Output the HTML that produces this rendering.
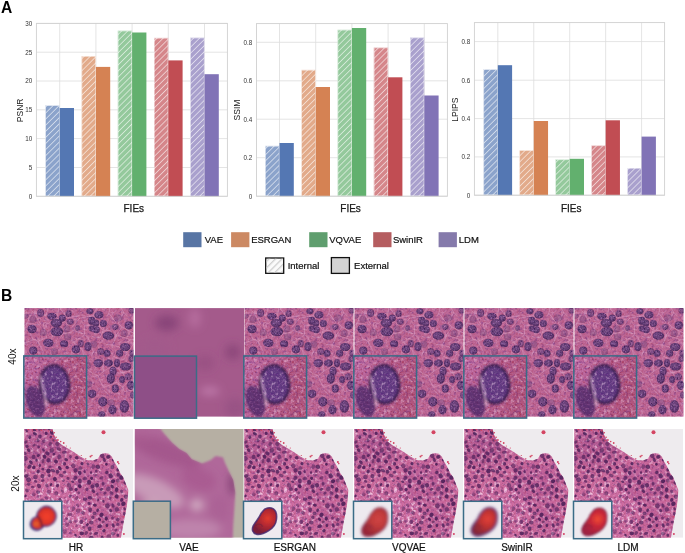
<!DOCTYPE html><html><head><meta charset="utf-8"><style>html,body{margin:0;padding:0;background:#fff}body{width:685px;height:553px;overflow:hidden}svg{display:block;will-change:transform}text{font-family:"Liberation Sans", sans-serif}</style></head><body>
<svg width="685" height="553" viewBox="0 0 685 553">
<defs>
<pattern id="hatch" patternUnits="userSpaceOnUse" width="4.3" height="4.3" patternTransform="rotate(45)"><rect x="0" y="0" width="0.8" height="4.3" fill="#fff" fill-opacity="0.65"/></pattern>
<pattern id="hatchg" patternUnits="userSpaceOnUse" width="4.6" height="4.6" patternTransform="rotate(45)"><rect x="0" y="0" width="1.3" height="4.6" fill="#cfcfcf"/></pattern>
</defs>
<rect width="685" height="553" fill="#fff"/>
<text x="0.9" y="12.7" font-size="15.6" font-weight="bold" fill="#000">A</text>
<text x="1.0" y="300.9" font-size="15.6" font-weight="bold" fill="#000">B</text>
<line x1="36.4" y1="196.3" x2="227.4" y2="196.3" stroke="#dddddd" stroke-width="0.8"/>
<text x="32.199999999999996" y="198.60000000000002" font-size="6.3" text-anchor="end" fill="#333">0</text>
<line x1="36.4" y1="167.5" x2="227.4" y2="167.5" stroke="#dddddd" stroke-width="0.8"/>
<text x="32.199999999999996" y="169.8" font-size="6.3" text-anchor="end" fill="#333">5</text>
<line x1="36.4" y1="138.6" x2="227.4" y2="138.6" stroke="#dddddd" stroke-width="0.8"/>
<text x="32.199999999999996" y="140.9" font-size="6.3" text-anchor="end" fill="#333">10</text>
<line x1="36.4" y1="109.8" x2="227.4" y2="109.8" stroke="#dddddd" stroke-width="0.8"/>
<text x="32.199999999999996" y="112.1" font-size="6.3" text-anchor="end" fill="#333">15</text>
<line x1="36.4" y1="81.0" x2="227.4" y2="81.0" stroke="#dddddd" stroke-width="0.8"/>
<text x="32.199999999999996" y="83.3" font-size="6.3" text-anchor="end" fill="#333">20</text>
<line x1="36.4" y1="52.2" x2="227.4" y2="52.2" stroke="#dddddd" stroke-width="0.8"/>
<text x="32.199999999999996" y="54.5" font-size="6.3" text-anchor="end" fill="#333">25</text>
<line x1="36.4" y1="23.4" x2="227.4" y2="23.4" stroke="#dddddd" stroke-width="0.8"/>
<text x="32.199999999999996" y="25.7" font-size="6.3" text-anchor="end" fill="#333">30</text>
<line x1="59.7" y1="23.4" x2="59.7" y2="196.3" stroke="#dddddd" stroke-width="0.8"/>
<line x1="95.9" y1="23.4" x2="95.9" y2="196.3" stroke="#dddddd" stroke-width="0.8"/>
<line x1="132.10000000000002" y1="23.4" x2="132.10000000000002" y2="196.3" stroke="#dddddd" stroke-width="0.8"/>
<line x1="168.3" y1="23.4" x2="168.3" y2="196.3" stroke="#dddddd" stroke-width="0.8"/>
<line x1="204.5" y1="23.4" x2="204.5" y2="196.3" stroke="#dddddd" stroke-width="0.8"/>
<rect x="45.40" y="105.4" width="14.3" height="90.90" fill="#8ba3cb"/>
<rect x="45.40" y="105.4" width="14.3" height="90.90" fill="url(#hatch)"/>
<rect x="45.70" y="105.7" width="13.700000000000001" height="90.30" fill="none" stroke="#fff" stroke-width="0.6" stroke-opacity="0.8"/>
<rect x="59.70" y="108.0" width="14.3" height="88.30" fill="#5477b3"/>
<rect x="81.60" y="56.1" width="14.3" height="140.20" fill="#e2aa8a"/>
<rect x="81.60" y="56.1" width="14.3" height="140.20" fill="url(#hatch)"/>
<rect x="81.90" y="56.4" width="13.700000000000001" height="139.60" fill="none" stroke="#fff" stroke-width="0.6" stroke-opacity="0.8"/>
<rect x="95.90" y="66.9" width="14.3" height="129.40" fill="#d58253"/>
<rect x="117.80" y="30.7" width="14.3" height="165.60" fill="#94c99c"/>
<rect x="117.80" y="30.7" width="14.3" height="165.60" fill="url(#hatch)"/>
<rect x="118.10" y="31.0" width="13.700000000000001" height="165.00" fill="none" stroke="#fff" stroke-width="0.6" stroke-opacity="0.8"/>
<rect x="132.10" y="32.5" width="14.3" height="163.80" fill="#62b06e"/>
<rect x="154.00" y="37.9" width="14.3" height="158.40" fill="#d5868a"/>
<rect x="154.00" y="37.9" width="14.3" height="158.40" fill="url(#hatch)"/>
<rect x="154.30" y="38.199999999999996" width="13.700000000000001" height="157.80" fill="none" stroke="#fff" stroke-width="0.6" stroke-opacity="0.8"/>
<rect x="168.30" y="60.4" width="14.3" height="135.90" fill="#c14d53"/>
<rect x="190.20" y="37.7" width="14.3" height="158.60" fill="#a9a0cd"/>
<rect x="190.20" y="37.7" width="14.3" height="158.60" fill="url(#hatch)"/>
<rect x="190.50" y="38.0" width="13.700000000000001" height="158.00" fill="none" stroke="#fff" stroke-width="0.6" stroke-opacity="0.8"/>
<rect x="204.50" y="74.2" width="14.3" height="122.10" fill="#8173b6"/>
<rect x="36.4" y="23.4" width="191.00" height="172.90" fill="none" stroke="#d0d0d0" stroke-width="0.9"/>
<text transform="translate(22.6,110.4) rotate(-90)" font-size="8.5" text-anchor="middle" fill="#222">PSNR</text>
<text x="133.8" y="211.5" font-size="10" text-anchor="middle" fill="#1a1a1a" stroke="#1a1a1a" stroke-width="0.25">FIEs</text>
<line x1="256.5" y1="196.2" x2="447.4" y2="196.2" stroke="#dddddd" stroke-width="0.8"/>
<text x="252.3" y="198.5" font-size="6.3" text-anchor="end" fill="#333">0</text>
<line x1="256.5" y1="157.7" x2="447.4" y2="157.7" stroke="#dddddd" stroke-width="0.8"/>
<text x="252.3" y="160.0" font-size="6.3" text-anchor="end" fill="#333">0.2</text>
<line x1="256.5" y1="119.2" x2="447.4" y2="119.2" stroke="#dddddd" stroke-width="0.8"/>
<text x="252.3" y="121.5" font-size="6.3" text-anchor="end" fill="#333">0.4</text>
<line x1="256.5" y1="80.8" x2="447.4" y2="80.8" stroke="#dddddd" stroke-width="0.8"/>
<text x="252.3" y="83.1" font-size="6.3" text-anchor="end" fill="#333">0.6</text>
<line x1="256.5" y1="42.3" x2="447.4" y2="42.3" stroke="#dddddd" stroke-width="0.8"/>
<text x="252.3" y="44.599999999999994" font-size="6.3" text-anchor="end" fill="#333">0.8</text>
<line x1="279.5" y1="23.6" x2="279.5" y2="196.2" stroke="#dddddd" stroke-width="0.8"/>
<line x1="315.7" y1="23.6" x2="315.7" y2="196.2" stroke="#dddddd" stroke-width="0.8"/>
<line x1="351.9" y1="23.6" x2="351.9" y2="196.2" stroke="#dddddd" stroke-width="0.8"/>
<line x1="388.1" y1="23.6" x2="388.1" y2="196.2" stroke="#dddddd" stroke-width="0.8"/>
<line x1="424.3" y1="23.6" x2="424.3" y2="196.2" stroke="#dddddd" stroke-width="0.8"/>
<rect x="265.20" y="145.9" width="14.3" height="50.30" fill="#8ba3cb"/>
<rect x="265.20" y="145.9" width="14.3" height="50.30" fill="url(#hatch)"/>
<rect x="265.50" y="146.20000000000002" width="13.700000000000001" height="49.70" fill="none" stroke="#fff" stroke-width="0.6" stroke-opacity="0.8"/>
<rect x="279.50" y="143.0" width="14.3" height="53.20" fill="#5477b3"/>
<rect x="301.40" y="69.9" width="14.3" height="126.30" fill="#e2aa8a"/>
<rect x="301.40" y="69.9" width="14.3" height="126.30" fill="url(#hatch)"/>
<rect x="301.70" y="70.2" width="13.700000000000001" height="125.70" fill="none" stroke="#fff" stroke-width="0.6" stroke-opacity="0.8"/>
<rect x="315.70" y="87.0" width="14.3" height="109.20" fill="#d58253"/>
<rect x="337.60" y="29.8" width="14.3" height="166.40" fill="#94c99c"/>
<rect x="337.60" y="29.8" width="14.3" height="166.40" fill="url(#hatch)"/>
<rect x="337.90" y="30.1" width="13.700000000000001" height="165.80" fill="none" stroke="#fff" stroke-width="0.6" stroke-opacity="0.8"/>
<rect x="351.90" y="28.0" width="14.3" height="168.20" fill="#62b06e"/>
<rect x="373.80" y="47.6" width="14.3" height="148.60" fill="#d5868a"/>
<rect x="373.80" y="47.6" width="14.3" height="148.60" fill="url(#hatch)"/>
<rect x="374.10" y="47.9" width="13.700000000000001" height="148.00" fill="none" stroke="#fff" stroke-width="0.6" stroke-opacity="0.8"/>
<rect x="388.10" y="77.3" width="14.3" height="118.90" fill="#c14d53"/>
<rect x="410.00" y="37.6" width="14.3" height="158.60" fill="#a9a0cd"/>
<rect x="410.00" y="37.6" width="14.3" height="158.60" fill="url(#hatch)"/>
<rect x="410.30" y="37.9" width="13.700000000000001" height="158.00" fill="none" stroke="#fff" stroke-width="0.6" stroke-opacity="0.8"/>
<rect x="424.30" y="95.5" width="14.3" height="100.70" fill="#8173b6"/>
<rect x="256.5" y="23.6" width="190.90" height="172.60" fill="none" stroke="#d0d0d0" stroke-width="0.9"/>
<text transform="translate(240.29999999999998,110.0) rotate(-90)" font-size="8.5" text-anchor="middle" fill="#222">SSIM</text>
<text x="350.6" y="211.5" font-size="10" text-anchor="middle" fill="#1a1a1a" stroke="#1a1a1a" stroke-width="0.25">FIEs</text>
<line x1="474.4" y1="195.2" x2="664.6" y2="195.2" stroke="#dddddd" stroke-width="0.8"/>
<text x="470.2" y="197.5" font-size="6.3" text-anchor="end" fill="#333">0</text>
<line x1="474.4" y1="156.9" x2="664.6" y2="156.9" stroke="#dddddd" stroke-width="0.8"/>
<text x="470.2" y="159.20000000000002" font-size="6.3" text-anchor="end" fill="#333">0.2</text>
<line x1="474.4" y1="118.6" x2="664.6" y2="118.6" stroke="#dddddd" stroke-width="0.8"/>
<text x="470.2" y="120.89999999999999" font-size="6.3" text-anchor="end" fill="#333">0.4</text>
<line x1="474.4" y1="80.2" x2="664.6" y2="80.2" stroke="#dddddd" stroke-width="0.8"/>
<text x="470.2" y="82.5" font-size="6.3" text-anchor="end" fill="#333">0.6</text>
<line x1="474.4" y1="41.6" x2="664.6" y2="41.6" stroke="#dddddd" stroke-width="0.8"/>
<text x="470.2" y="43.9" font-size="6.3" text-anchor="end" fill="#333">0.8</text>
<line x1="497.8" y1="22.6" x2="497.8" y2="195.2" stroke="#dddddd" stroke-width="0.8"/>
<line x1="533.75" y1="22.6" x2="533.75" y2="195.2" stroke="#dddddd" stroke-width="0.8"/>
<line x1="569.7" y1="22.6" x2="569.7" y2="195.2" stroke="#dddddd" stroke-width="0.8"/>
<line x1="605.65" y1="22.6" x2="605.65" y2="195.2" stroke="#dddddd" stroke-width="0.8"/>
<line x1="641.6" y1="22.6" x2="641.6" y2="195.2" stroke="#dddddd" stroke-width="0.8"/>
<rect x="483.50" y="69.4" width="14.3" height="125.80" fill="#8ba3cb"/>
<rect x="483.50" y="69.4" width="14.3" height="125.80" fill="url(#hatch)"/>
<rect x="483.80" y="69.7" width="13.700000000000001" height="125.20" fill="none" stroke="#fff" stroke-width="0.6" stroke-opacity="0.8"/>
<rect x="497.80" y="65.2" width="14.3" height="130.00" fill="#5477b3"/>
<rect x="519.45" y="150.3" width="14.3" height="44.90" fill="#e2aa8a"/>
<rect x="519.45" y="150.3" width="14.3" height="44.90" fill="url(#hatch)"/>
<rect x="519.75" y="150.60000000000002" width="13.700000000000001" height="44.30" fill="none" stroke="#fff" stroke-width="0.6" stroke-opacity="0.8"/>
<rect x="533.75" y="121.0" width="14.3" height="74.20" fill="#d58253"/>
<rect x="555.40" y="159.5" width="14.3" height="35.70" fill="#94c99c"/>
<rect x="555.40" y="159.5" width="14.3" height="35.70" fill="url(#hatch)"/>
<rect x="555.70" y="159.8" width="13.700000000000001" height="35.10" fill="none" stroke="#fff" stroke-width="0.6" stroke-opacity="0.8"/>
<rect x="569.70" y="158.8" width="14.3" height="36.40" fill="#62b06e"/>
<rect x="591.35" y="145.5" width="14.3" height="49.70" fill="#d5868a"/>
<rect x="591.35" y="145.5" width="14.3" height="49.70" fill="url(#hatch)"/>
<rect x="591.65" y="145.8" width="13.700000000000001" height="49.10" fill="none" stroke="#fff" stroke-width="0.6" stroke-opacity="0.8"/>
<rect x="605.65" y="120.3" width="14.3" height="74.90" fill="#c14d53"/>
<rect x="627.30" y="168.0" width="14.3" height="27.20" fill="#a9a0cd"/>
<rect x="627.30" y="168.0" width="14.3" height="27.20" fill="url(#hatch)"/>
<rect x="627.60" y="168.3" width="13.700000000000001" height="26.60" fill="none" stroke="#fff" stroke-width="0.6" stroke-opacity="0.8"/>
<rect x="641.60" y="136.6" width="14.3" height="58.60" fill="#8173b6"/>
<rect x="474.4" y="22.6" width="190.20" height="172.60" fill="none" stroke="#d0d0d0" stroke-width="0.9"/>
<text transform="translate(458.3,109.6) rotate(-90)" font-size="8.5" text-anchor="middle" fill="#222">LPIPS</text>
<text x="571.2" y="211.5" font-size="10" text-anchor="middle" fill="#1a1a1a" stroke="#1a1a1a" stroke-width="0.25">FIEs</text>
<rect x="183.2" y="232.2" width="18.3" height="15" fill="#5875a4"/>
<text x="204.7" y="243.1" font-size="9.5" fill="#111" stroke="#111" stroke-width="0.2">VAE</text>
<rect x="231.1" y="232.2" width="18.3" height="15" fill="#cc8963"/>
<text x="251.2" y="243.1" font-size="9.5" fill="#111" stroke="#111" stroke-width="0.2">ESRGAN</text>
<rect x="309.2" y="232.2" width="18.3" height="15" fill="#5f9e6e"/>
<text x="329.2" y="243.1" font-size="9.5" fill="#111" stroke="#111" stroke-width="0.2">VQVAE</text>
<rect x="373.2" y="232.2" width="18.3" height="15" fill="#b55d60"/>
<text x="392.9" y="243.1" font-size="9.5" fill="#111" stroke="#111" stroke-width="0.2">SwinIR</text>
<rect x="438.6" y="232.2" width="18.3" height="15" fill="#857aab"/>
<text x="458.8" y="243.1" font-size="9.5" fill="#111" stroke="#111" stroke-width="0.2">LDM</text>
<rect x="265.7" y="258" width="18" height="15.3" fill="#fbfbfb" stroke="#111" stroke-width="1.3"/>
<rect x="266.4" y="258.7" width="16.6" height="13.9" fill="url(#hatchg)"/>
<text x="287.7" y="268.9" font-size="9.5" fill="#111" stroke="#111" stroke-width="0.2">Internal</text>
<rect x="331.4" y="257.6" width="18" height="15.8" fill="#d3d3d3" stroke="#111" stroke-width="1.3"/>
<text x="354.1" y="268.9" font-size="9.5" fill="#111" stroke="#111" stroke-width="0.2">External</text>
<defs>
<filter id="b03" x="-10%" y="-10%" width="120%" height="120%"><feGaussianBlur stdDeviation="0.35"/></filter>
<filter id="b06" x="-20%" y="-20%" width="140%" height="140%"><feGaussianBlur stdDeviation="0.6"/></filter>
<filter id="b10" x="-20%" y="-20%" width="140%" height="140%"><feGaussianBlur stdDeviation="1.0"/></filter>
<filter id="b15" x="-20%" y="-20%" width="140%" height="140%"><feGaussianBlur stdDeviation="1.5"/></filter>
<filter id="b40" x="-50%" y="-50%" width="200%" height="200%"><feGaussianBlur stdDeviation="4"/></filter>
<filter id="b25" x="-50%" y="-50%" width="200%" height="200%"><feGaussianBlur stdDeviation="2.5"/></filter>
<filter id="tex" x="0" y="0" width="100%" height="100%" color-interpolation-filters="sRGB"><feTurbulence type="fractalNoise" baseFrequency="0.55" numOctaves="2" seed="3" result="n"/><feColorMatrix in="n" type="matrix" values="0 0 0 0 1  0 0 0 0 1  0 0 0 0 1  1.2 0 0 0 -0.55" result="w"/><feComposite in="w" in2="SourceGraphic" operator="in"/></filter>
<filter id="texd" x="0" y="0" width="100%" height="100%" color-interpolation-filters="sRGB"><feTurbulence type="fractalNoise" baseFrequency="0.5" numOctaves="2" seed="9" result="n"/><feColorMatrix in="n" type="matrix" values="0 0 0 0 0.35  0 0 0 0 0.1  0 0 0 0 0.45  1.3 0 0 0 -0.6" result="w"/><feComposite in="w" in2="SourceGraphic" operator="in"/></filter>
<filter id="sw" x="0" y="0" width="100%" height="100%" color-interpolation-filters="sRGB"><feTurbulence type="fractalNoise" baseFrequency="0.3" numOctaves="2" seed="3" result="n"/><feColorMatrix in="n" type="matrix" values="0 0 0 0 0.97  0 0 0 0 0.85  0 0 0 0 0.93  3.2 0 0 0 -1.7" result="w"/><feComposite in="w" in2="SourceGraphic" operator="in"/></filter>
<filter id="sr" x="0" y="0" width="100%" height="100%" color-interpolation-filters="sRGB"><feTurbulence type="fractalNoise" baseFrequency="0.4" numOctaves="2" seed="11" result="n"/><feColorMatrix in="n" type="matrix" values="0 0 0 0 0.62  0 0 0 0 0.16  0 0 0 0 0.28  3.0 0 0 0 -1.6" result="w"/><feComposite in="w" in2="SourceGraphic" operator="in"/></filter>
<filter id="sp" x="0" y="0" width="100%" height="100%" color-interpolation-filters="sRGB"><feTurbulence type="fractalNoise" baseFrequency="0.35" numOctaves="2" seed="5" result="n"/><feColorMatrix in="n" type="matrix" values="0 0 0 0 0.34  0 0 0 0 0.14  0 0 0 0 0.48  2.6 0 0 0 -1.35" result="w"/><feComposite in="w" in2="SourceGraphic" operator="in"/></filter>
<filter id="sl" x="0" y="0" width="100%" height="100%" color-interpolation-filters="sRGB"><feTurbulence type="fractalNoise" baseFrequency="0.5" numOctaves="2" seed="21" result="n"/><feColorMatrix in="n" type="matrix" values="0 0 0 0 0.9  0 0 0 0 0.6  0 0 0 0 0.85  2.6 0 0 0 -1.3" result="w"/><feComposite in="w" in2="SourceGraphic" operator="in"/></filter>
<filter id="sp2" x="0" y="0" width="100%" height="100%" color-interpolation-filters="sRGB"><feTurbulence type="fractalNoise" baseFrequency="0.7" numOctaves="2" seed="31" result="n"/><feColorMatrix in="n" type="matrix" values="0 0 0 0 0.2  0 0 0 0 0.08  0 0 0 0 0.3  3.0 0 0 0 -1.5" result="w"/><feComposite in="w" in2="SourceGraphic" operator="in"/></filter>
<filter id="sl2" x="0" y="0" width="100%" height="100%" color-interpolation-filters="sRGB"><feTurbulence type="fractalNoise" baseFrequency="0.6" numOctaves="2" seed="41" result="n"/><feColorMatrix in="n" type="matrix" values="0 0 0 0 0.75  0 0 0 0 0.55  0 0 0 0 0.85  3.0 0 0 0 -1.6" result="w"/><feComposite in="w" in2="SourceGraphic" operator="in"/></filter>
<clipPath id="c40"><rect x="0" y="0" width="109.4" height="108.7"/></clipPath>
<clipPath id="c20"><rect x="0" y="0" width="108.7" height="108.8"/></clipPath>
<clipPath id="ci40"><rect x="0" y="0" width="62.4" height="61.7"/></clipPath>
<clipPath id="ci20"><rect x="0" y="0" width="37.8" height="37"/></clipPath>
<radialGradient id="ng" cx="0.45" cy="0.45" r="0.6"><stop offset="0" stop-color="#725084"/><stop offset="0.65" stop-color="#58346e"/><stop offset="1" stop-color="#3a1e4a"/></radialGradient>
<g id="t40" clip-path="url(#c40)"><g filter="url(#b03)">
<rect x="0" y="0" width="109.4" height="108.7" fill="#bc6592"/>
<rect x="0" y="0" width="109.4" height="108.7" fill="#fff" filter="url(#sr)" opacity="0.4"/>
<rect x="0" y="0" width="109.4" height="108.7" fill="#fff" filter="url(#sp)" opacity="0.55"/>
<rect x="0" y="0" width="109.4" height="108.7" fill="#fff" filter="url(#sw)" opacity="0.3"/>
<path d="M16.1,84.6L-65.0,83.9M2.4,-24.7L-44.9,14.8M16.1,84.6L19.6,81.9M19.6,81.9L15.1,63.9M115.8,123.2L100.6,90.1M19.6,81.9L20.1,82.0M27.0,103.2L20.1,82.0M199.5,65.9L99.7,83.4M85.9,-34.6L69.1,7.5M57.0,9.8L69.1,7.5M58.4,12.5L69.6,13.5M69.1,7.5L71.4,10.2M71.4,10.2L69.6,13.5M60.5,17.2L68.6,17.1M88.5,49.3L88.5,57.9M79.0,50.8L79.1,63.2M88.5,57.9L79.1,63.2M88.5,57.9L95.2,61.3M89.1,48.7L99.1,51.5M63.5,29.3L69.1,43.5M58.0,41.6L59.4,47.8M69.1,43.5L67.5,47.6M66.8,48.0L67.5,47.6M60.2,26.1L48.1,22.1M60.5,26.8L49.1,34.1M49.1,34.1L49.0,34.1M60.5,17.2L60.2,26.1M56.2,9.2L47.8,18.9M58.0,41.6L49.1,34.1M63.5,29.0L60.5,26.8M63.5,29.0L63.5,29.3M96.2,64.1L95.2,61.3M79.1,63.2L78.6,63.9M204.0,65.6L101.7,46.6M101.7,46.6L99.7,51.2M136.8,64.5L113.0,60.7M96.2,64.1L98.5,64.7M99.7,51.2L99.1,51.5M113.0,60.7L98.5,64.7M100.2,121.1L93.4,97.2M97.9,88.2L95.4,89.5M97.1,144.6L82.3,105.3M52.6,165.3L77.6,102.6M82.3,105.3L77.6,102.6M85.1,98.7L84.7,98.7M82.3,105.3L84.7,98.7M55.3,7.4L42.8,10.0M30.7,-25.5L34.7,-1.2M34.7,-1.2L42.8,10.0M43.3,16.7L41.2,13.6M79.0,50.8L78.0,49.8M81.8,36.3L88.3,36.8M89.0,37.7L88.3,36.8M68.6,17.1L70.4,18.4M67.5,28.4L75.6,29.7M101.1,75.9L107.8,72.2M99.8,67.5L107.8,72.2M99.7,83.4L98.8,79.3M98.8,79.3L101.1,75.9M136.8,64.5L107.8,72.2M98.8,79.3L91.9,74.1M98.5,64.7L99.8,67.5M27.0,103.2L51.1,98.0M53.4,102.5L51.1,98.0M20.1,82.0L41.5,83.5M51.1,98.0L48.4,91.0M74.0,67.7L75.1,71.8M74.0,67.7L70.6,66.2M70.6,66.2L69.9,66.3M64.0,68.4L58.2,83.6M58.2,83.6L60.0,83.0M91.9,74.1L79.4,79.5M78.6,63.9L74.0,67.7M79.4,79.5L75.1,71.8M59.4,47.8L51.9,53.2M51.9,53.2L69.9,66.3M51.9,53.2L45.0,55.6M46.5,67.7L64.0,68.4M41.5,83.5L46.5,67.7M48.4,91.0L58.2,83.6M34.7,-1.2L32.7,9.6M41.2,13.6L36.7,14.4M36.7,14.4L32.7,9.6M8.3,3.1L9.7,4.8M30.7,-25.5L21.8,7.2M21.8,7.2L9.7,4.8M8.3,3.1L2.5,15.5M9.7,4.8L16.2,16.0M16.2,16.0L15.2,16.7M15.2,16.7L2.5,15.5M1.7,15.9L2.5,15.5M101.7,46.6L101.7,45.1M89.0,37.7L94.1,38.5M101.7,45.1L94.1,38.5M85.7,-51.6L156.5,19.4M88.3,36.8L92.0,26.8M75.6,29.7L78.9,22.8M78.9,22.8L86.3,22.3M70.4,18.4L75.1,18.0M75.5,11.8L75.1,18.0M75.1,18.0L78.7,22.2M82.5,96.2L74.2,98.8M83.8,86.2L79.5,82.1M53.4,102.5L67.7,97.0M15.1,63.9L19.1,56.1M45.0,55.6L41.9,53.2M49.0,34.1L47.2,35.3M41.9,53.2L41.4,47.8M43.3,16.7L37.8,23.1M46.3,24.5L38.4,25.4M38.4,25.4L36.3,29.5M31.9,35.7L32.1,32.0M101.7,45.1L113.7,31.2M94.1,38.5L106.5,31.7M113.7,31.2L106.5,31.7M113.7,31.2L117.4,29.7M92.0,26.8L92.3,26.7M106.5,31.7L92.3,26.7M19.4,44.4L13.8,33.3M-6.5,37.7L8.8,31.6M13.8,33.3L10.5,31.5M8.8,31.6L10.5,31.5M19.1,56.1L19.0,55.7M1.7,15.9L8.8,31.6M22.2,29.3L18.9,15.5M27.7,28.7L27.7,19.5M24.0,15.4L21.1,14.5M21.1,14.5L18.9,15.5M13.8,33.3L22.2,29.3M32.7,9.6L24.0,15.4M93.9,15.0L99.3,4.4M93.9,15.0L97.6,19.0M98.1,19.0L97.6,19.0M105.2,9.8L99.3,4.4M117.4,29.7L98.1,19.0M92.3,26.7L97.6,19.0M88.3,-16.3L99.3,4.4M87.0,19.0L91.6,14.3M91.6,14.3L84.6,5.2M82.7,8.0L84.6,5.2M86.3,22.3L87.0,19.0M78.7,22.2L82.9,12.8M88.3,-16.3L84.6,5.2" fill="none" stroke="#ecc8e4" stroke-width="1.0" stroke-opacity="0.3" filter="url(#b06)"/>
<g filter="url(#b06)">
<ellipse cx="7.7" cy="20.8" rx="4.68" ry="4.23" fill="url(#ng)" fill-opacity="0.9"/>
<ellipse cx="16.3" cy="5" rx="3.56" ry="4.12" fill="url(#ng)" fill-opacity="0.65"/>
<ellipse cx="27.6" cy="8.1" rx="4.68" ry="3.56" fill="url(#ng)" fill-opacity="0.9"/>
<ellipse cx="38" cy="10" rx="3.56" ry="3.56" fill="url(#ng)" fill-opacity="0.9"/>
<ellipse cx="44.3" cy="5.4" rx="3.22" ry="3.56" fill="url(#ng)" fill-opacity="0.65"/>
<ellipse cx="32.1" cy="14.9" rx="5.80" ry="4.12" fill="url(#ng)" fill-opacity="0.9"/>
<ellipse cx="32.6" cy="23.5" rx="6.36" ry="4.68" fill="url(#ng)" fill-opacity="0.9"/>
<ellipse cx="46" cy="13.6" rx="3.56" ry="3.00" fill="url(#ng)" fill-opacity="0.65"/>
<ellipse cx="24" cy="34.8" rx="5.24" ry="4.12" fill="url(#ng)" fill-opacity="0.9"/>
<ellipse cx="39.8" cy="35.7" rx="4.12" ry="3.56" fill="url(#ng)" fill-opacity="0.9"/>
<ellipse cx="9" cy="42.5" rx="4.12" ry="4.12" fill="url(#ng)" fill-opacity="0.9"/>
<ellipse cx="51.6" cy="41.2" rx="4.12" ry="4.12" fill="url(#ng)" fill-opacity="0.9"/>
<ellipse cx="1.8" cy="8.1" rx="2.44" ry="2.44" fill="url(#ng)" fill-opacity="0.35"/>
<ellipse cx="8.6" cy="11.3" rx="3.56" ry="3.56" fill="url(#ng)" fill-opacity="0.35"/>
<ellipse cx="42.5" cy="20.8" rx="3.56" ry="3.56" fill="url(#ng)" fill-opacity="0.35"/>
<ellipse cx="53.4" cy="20" rx="2.44" ry="3.00" fill="url(#ng)" fill-opacity="0.65"/>
<ellipse cx="19" cy="24.4" rx="3.56" ry="3.56" fill="url(#ng)" fill-opacity="0.35"/>
<ellipse cx="30" cy="43.4" rx="3.56" ry="3.56" fill="url(#ng)" fill-opacity="0.35"/>
<ellipse cx="43.4" cy="29" rx="3.56" ry="3.56" fill="url(#ng)" fill-opacity="0.35"/>
<ellipse cx="65.6" cy="3.2" rx="3.56" ry="3.00" fill="url(#ng)" fill-opacity="0.9"/>
<ellipse cx="74.6" cy="6.8" rx="4.68" ry="3.56" fill="url(#ng)" fill-opacity="0.9"/>
<ellipse cx="67.4" cy="12.7" rx="3.56" ry="4.12" fill="url(#ng)" fill-opacity="0.9"/>
<ellipse cx="71.4" cy="14.9" rx="3.56" ry="3.56" fill="url(#ng)" fill-opacity="0.9"/>
<ellipse cx="79.1" cy="15.4" rx="3.56" ry="3.56" fill="url(#ng)" fill-opacity="0.9"/>
<ellipse cx="67.4" cy="20.4" rx="3.00" ry="3.00" fill="url(#ng)" fill-opacity="0.9"/>
<ellipse cx="71.9" cy="21.7" rx="3.56" ry="3.56" fill="url(#ng)" fill-opacity="0.9"/>
<ellipse cx="90.9" cy="19" rx="3.56" ry="3.00" fill="url(#ng)" fill-opacity="0.65"/>
<ellipse cx="104.5" cy="17.2" rx="4.12" ry="4.12" fill="url(#ng)" fill-opacity="0.9"/>
<ellipse cx="93.6" cy="10" rx="4.12" ry="3.56" fill="url(#ng)" fill-opacity="0.35"/>
<ellipse cx="84.1" cy="27.6" rx="5.80" ry="4.12" fill="url(#ng)" fill-opacity="0.9"/>
<ellipse cx="63.7" cy="38.5" rx="3.56" ry="4.68" fill="url(#ng)" fill-opacity="0.9"/>
<ellipse cx="56.5" cy="35.3" rx="3.00" ry="3.56" fill="url(#ng)" fill-opacity="0.65"/>
<ellipse cx="69.6" cy="36.2" rx="3.56" ry="3.56" fill="url(#ng)" fill-opacity="0.35"/>
<ellipse cx="100.9" cy="38.9" rx="5.24" ry="4.12" fill="url(#ng)" fill-opacity="0.9"/>
<ellipse cx="82.7" cy="45.2" rx="3.56" ry="3.56" fill="url(#ng)" fill-opacity="0.9"/>
<ellipse cx="76.4" cy="43.4" rx="3.56" ry="3.56" fill="url(#ng)" fill-opacity="0.65"/>
<ellipse cx="95.4" cy="45.2" rx="3.56" ry="3.56" fill="url(#ng)" fill-opacity="0.9"/>
<ellipse cx="107.2" cy="2.7" rx="3.00" ry="3.00" fill="url(#ng)" fill-opacity="0.65"/>
<ellipse cx="100" cy="25.3" rx="3.56" ry="3.56" fill="url(#ng)" fill-opacity="0.35"/>
<ellipse cx="108" cy="45" rx="3.00" ry="3.56" fill="url(#ng)" fill-opacity="0.65"/>
<ellipse cx="73.9" cy="55" rx="4.68" ry="4.12" fill="url(#ng)" fill-opacity="0.9"/>
<ellipse cx="84.2" cy="55" rx="4.68" ry="3.56" fill="url(#ng)" fill-opacity="0.9"/>
<ellipse cx="92.7" cy="55" rx="3.00" ry="4.12" fill="url(#ng)" fill-opacity="0.9"/>
<ellipse cx="101.3" cy="58.4" rx="5.80" ry="4.12" fill="url(#ng)" fill-opacity="0.9"/>
<ellipse cx="88.7" cy="63" rx="3.56" ry="4.68" fill="url(#ng)" fill-opacity="0.9"/>
<ellipse cx="86.5" cy="70.3" rx="4.12" ry="5.24" fill="url(#ng)" fill-opacity="0.9"/>
<ellipse cx="97.9" cy="71.5" rx="3.00" ry="3.56" fill="url(#ng)" fill-opacity="0.9"/>
<ellipse cx="104.1" cy="68.6" rx="3.56" ry="3.56" fill="url(#ng)" fill-opacity="0.65"/>
<ellipse cx="106.4" cy="77.2" rx="3.56" ry="4.68" fill="url(#ng)" fill-opacity="0.9"/>
<ellipse cx="91" cy="80.6" rx="3.56" ry="4.12" fill="url(#ng)" fill-opacity="0.9"/>
<ellipse cx="67.7" cy="85.7" rx="4.12" ry="4.12" fill="url(#ng)" fill-opacity="0.9"/>
<ellipse cx="78.5" cy="93.7" rx="4.68" ry="4.68" fill="url(#ng)" fill-opacity="0.9"/>
<ellipse cx="100.1" cy="98.3" rx="4.68" ry="6.36" fill="url(#ng)" fill-opacity="0.9"/>
<ellipse cx="88.2" cy="101.7" rx="4.12" ry="4.68" fill="url(#ng)" fill-opacity="0.9"/>
<ellipse cx="107" cy="50.4" rx="3.00" ry="3.56" fill="url(#ng)" fill-opacity="0.65"/>
<ellipse cx="64.3" cy="76" rx="3.56" ry="3.56" fill="url(#ng)" fill-opacity="0.35"/>
<ellipse cx="87" cy="94.8" rx="3.56" ry="3.56" fill="url(#ng)" fill-opacity="0.35"/>
<ellipse cx="108.1" cy="86.9" rx="2.44" ry="3.56" fill="url(#ng)" fill-opacity="0.65"/>
<ellipse cx="77.4" cy="106.2" rx="3.56" ry="3.00" fill="url(#ng)" fill-opacity="0.9"/>
<ellipse cx="63.1" cy="57.3" rx="3.56" ry="3.56" fill="url(#ng)" fill-opacity="0.35"/>
</g>
<clipPath id="cnuc"><ellipse cx="7.7" cy="20.8" rx="4.20" ry="3.78"/><ellipse cx="16.3" cy="5" rx="3.15" ry="3.68"/><ellipse cx="27.6" cy="8.1" rx="4.20" ry="3.15"/><ellipse cx="38" cy="10" rx="3.15" ry="3.15"/><ellipse cx="44.3" cy="5.4" rx="2.84" ry="3.15"/><ellipse cx="32.1" cy="14.9" rx="5.25" ry="3.68"/><ellipse cx="32.6" cy="23.5" rx="5.78" ry="4.20"/><ellipse cx="46" cy="13.6" rx="3.15" ry="2.62"/><ellipse cx="24" cy="34.8" rx="4.73" ry="3.68"/><ellipse cx="39.8" cy="35.7" rx="3.68" ry="3.15"/><ellipse cx="9" cy="42.5" rx="3.68" ry="3.68"/><ellipse cx="51.6" cy="41.2" rx="3.68" ry="3.68"/><ellipse cx="53.4" cy="20" rx="2.10" ry="2.62"/><ellipse cx="65.6" cy="3.2" rx="3.15" ry="2.62"/><ellipse cx="74.6" cy="6.8" rx="4.20" ry="3.15"/><ellipse cx="67.4" cy="12.7" rx="3.15" ry="3.68"/><ellipse cx="71.4" cy="14.9" rx="3.15" ry="3.15"/><ellipse cx="79.1" cy="15.4" rx="3.15" ry="3.15"/><ellipse cx="67.4" cy="20.4" rx="2.62" ry="2.62"/><ellipse cx="71.9" cy="21.7" rx="3.15" ry="3.15"/><ellipse cx="90.9" cy="19" rx="3.15" ry="2.62"/><ellipse cx="104.5" cy="17.2" rx="3.68" ry="3.68"/><ellipse cx="84.1" cy="27.6" rx="5.25" ry="3.68"/><ellipse cx="63.7" cy="38.5" rx="3.15" ry="4.20"/><ellipse cx="56.5" cy="35.3" rx="2.62" ry="3.15"/><ellipse cx="100.9" cy="38.9" rx="4.73" ry="3.68"/><ellipse cx="82.7" cy="45.2" rx="3.15" ry="3.15"/><ellipse cx="76.4" cy="43.4" rx="3.15" ry="3.15"/><ellipse cx="95.4" cy="45.2" rx="3.15" ry="3.15"/><ellipse cx="107.2" cy="2.7" rx="2.62" ry="2.62"/><ellipse cx="108" cy="45" rx="2.62" ry="3.15"/><ellipse cx="73.9" cy="55" rx="4.20" ry="3.68"/><ellipse cx="84.2" cy="55" rx="4.20" ry="3.15"/><ellipse cx="92.7" cy="55" rx="2.62" ry="3.68"/><ellipse cx="101.3" cy="58.4" rx="5.25" ry="3.68"/><ellipse cx="88.7" cy="63" rx="3.15" ry="4.20"/><ellipse cx="86.5" cy="70.3" rx="3.68" ry="4.73"/><ellipse cx="97.9" cy="71.5" rx="2.62" ry="3.15"/><ellipse cx="104.1" cy="68.6" rx="3.15" ry="3.15"/><ellipse cx="106.4" cy="77.2" rx="3.15" ry="4.20"/><ellipse cx="91" cy="80.6" rx="3.15" ry="3.68"/><ellipse cx="67.7" cy="85.7" rx="3.68" ry="3.68"/><ellipse cx="78.5" cy="93.7" rx="4.20" ry="4.20"/><ellipse cx="100.1" cy="98.3" rx="4.20" ry="5.78"/><ellipse cx="88.2" cy="101.7" rx="3.68" ry="4.20"/><ellipse cx="107" cy="50.4" rx="2.62" ry="3.15"/><ellipse cx="108.1" cy="86.9" rx="2.10" ry="3.15"/><ellipse cx="77.4" cy="106.2" rx="3.15" ry="2.62"/></clipPath>
<g clip-path="url(#cnuc)"><rect x="0" y="0" width="109.4" height="108.7" fill="#000" filter="url(#sp2)" opacity="0.8"/><rect x="0" y="0" width="109.4" height="108.7" fill="#fff" filter="url(#sl2)" opacity="0.55"/></g>
<rect x="0" y="0" width="109.4" height="108.7" fill="#fff" filter="url(#sl)" opacity="0.3"/>
</g></g>
<g id="i40" clip-path="url(#ci40)">
<rect x="0" y="0" width="62.4" height="61.7" fill="#b8629a"/>
<linearGradient id="ig" x1="0" y1="0" x2="1" y2="0.3"><stop offset="0" stop-color="#c070a8" stop-opacity="0.5"/><stop offset="1" stop-color="#a84860" stop-opacity="0.5"/></linearGradient>
<rect x="0" y="0" width="62.4" height="61.7" fill="url(#ig)"/>
<rect x="0" y="0" width="62.4" height="61.7" fill="#fff" filter="url(#sr)" opacity="0.8"/>
<rect x="0" y="0" width="62.4" height="61.7" fill="#fff" filter="url(#sp)" opacity="0.6"/>
<rect x="0" y="0" width="62.4" height="61.7" fill="#fff" filter="url(#sw)" opacity="0.5"/>
<g filter="url(#b10)">
<ellipse cx="30.5" cy="28.2" rx="14.4" ry="18.8" transform="rotate(-6 30.5 28.2)" fill="#5a3680" fill-opacity="0.9" stroke="#2e1848" stroke-width="3" stroke-opacity="0.8"/>
<ellipse cx="11.5" cy="45" rx="9" ry="16" transform="rotate(-18 11.5 45)" fill="#4a2868" fill-opacity="0.8"/>
<line x1="17" y1="20" x2="23" y2="50" stroke="#f0c8e6" stroke-width="2" opacity="0.6"/>
</g>
<clipPath id="cn"><ellipse cx="30.5" cy="28.2" rx="12.6" ry="17" transform="rotate(-6 30.5 28.2)"/></clipPath>
<g clip-path="url(#cn)"><rect x="15" y="10" width="32" height="36" fill="#000" filter="url(#sp)" opacity="0.9"/><rect x="15" y="10" width="32" height="36" fill="#fff" filter="url(#sw)" opacity="0.5"/></g>
<rect x="0" y="0" width="62.4" height="61.7" fill="#fff" filter="url(#sl)" opacity="0.35"/>
</g>
<g id="t20" clip-path="url(#c20)">
<rect x="0" y="0" width="109.4" height="108.8" fill="#eeebee"/>
<polygon points="28.5,-1.0 28.5,0.5 29.4,5.0 31.5,9.5 34.0,13.0 38.0,16.2 44.1,19.8 50.2,23.5 56.4,27.8 62.5,30.9 68.6,31.5 73.5,29.7 76.0,25.4 79.7,24.1 84.6,24.8 87.6,27.8 89.5,32.1 92.5,37.0 96.2,44.4 98.9,48.3 101.7,55.3 104.0,61.0 103.5,70.0 102.0,80.0 99.5,92.6 96.5,109.5 -1.0,109.5 -1.0,-1.0" fill="#cc6c9e"/>
<clipPath id="cp20"><polygon points="28.5,-1.0 28.5,0.5 29.4,5.0 31.5,9.5 34.0,13.0 38.0,16.2 44.1,19.8 50.2,23.5 56.4,27.8 62.5,30.9 68.6,31.5 73.5,29.7 76.0,25.4 79.7,24.1 84.6,24.8 87.6,27.8 89.5,32.1 92.5,37.0 96.2,44.4 98.9,48.3 101.7,55.3 104.0,61.0 103.5,70.0 102.0,80.0 99.5,92.6 96.5,109.5 -1.0,109.5 -1.0,-1.0"/></clipPath>
<g clip-path="url(#cp20)">
<g filter="url(#b40)">
<ellipse cx="20" cy="20" rx="25" ry="18" fill="#9e4a88" fill-opacity="0.45"/>
<ellipse cx="70" cy="55" rx="25" ry="20" fill="#a85090" fill-opacity="0.35"/>
<ellipse cx="85" cy="90" rx="15" ry="15" fill="#a85090" fill-opacity="0.3"/>
</g>
<rect x="0" y="0" width="109.4" height="108.8" fill="#fff" filter="url(#sr)" opacity="0.4"/>
<rect x="0" y="0" width="109.4" height="108.8" fill="#fff" filter="url(#sp)" opacity="0.5"/>
<rect x="0" y="0" width="109.4" height="108.8" fill="#fff" filter="url(#sw)" opacity="0.7"/>
<clipPath id="cll"><ellipse cx="30" cy="84" rx="36" ry="26"/></clipPath>
<g clip-path="url(#cll)"><rect x="0" y="50" width="70" height="60" fill="#fff" filter="url(#sw)" opacity="0.85"/><rect x="0" y="50" width="70" height="60" fill="#fff" filter="url(#sl)" opacity="0.6"/></g>
<g filter="url(#b03)">
<ellipse cx="33.0" cy="15.0" rx="2.1" ry="2.1" transform="rotate(132 33.0 15.0)" fill="#4a1e58" fill-opacity="0.58"/>
<ellipse cx="55.9" cy="39.3" rx="2.1" ry="2.0" transform="rotate(146 55.9 39.3)" fill="#4a1e58" fill-opacity="0.53"/>
<ellipse cx="4.3" cy="55.3" rx="1.8" ry="1.5" transform="rotate(34 4.3 55.3)" fill="#4a1e58" fill-opacity="0.55"/>
<ellipse cx="2.0" cy="47.0" rx="2.4" ry="1.7" transform="rotate(166 2.0 47.0)" fill="#4a1e58" fill-opacity="0.76"/>
<ellipse cx="5.5" cy="8.3" rx="1.8" ry="1.4" transform="rotate(117 5.5 8.3)" fill="#4a1e58" fill-opacity="0.80"/>
<ellipse cx="22.1" cy="68.9" rx="2.1" ry="1.7" transform="rotate(10 22.1 68.9)" fill="#4a1e58" fill-opacity="0.44"/>
<ellipse cx="60.3" cy="42.8" rx="1.5" ry="1.2" transform="rotate(60 60.3 42.8)" fill="#4a1e58" fill-opacity="0.75"/>
<ellipse cx="13.6" cy="11.3" rx="2.1" ry="1.3" transform="rotate(83 13.6 11.3)" fill="#4a1e58" fill-opacity="0.60"/>
<ellipse cx="60.8" cy="70.2" rx="2.4" ry="1.6" transform="rotate(178 60.8 70.2)" fill="#4a1e58" fill-opacity="0.73"/>
<ellipse cx="4.4" cy="21.3" rx="2.1" ry="1.4" transform="rotate(59 4.4 21.3)" fill="#4a1e58" fill-opacity="0.79"/>
<ellipse cx="71.5" cy="46.3" rx="1.6" ry="1.1" transform="rotate(138 71.5 46.3)" fill="#4a1e58" fill-opacity="0.56"/>
<ellipse cx="31.9" cy="64.2" rx="2.3" ry="2.0" transform="rotate(97 31.9 64.2)" fill="#4a1e58" fill-opacity="0.47"/>
<ellipse cx="30.4" cy="87.8" rx="2.0" ry="1.5" transform="rotate(108 30.4 87.8)" fill="#4a1e58" fill-opacity="0.53"/>
<ellipse cx="24.4" cy="62.9" rx="2.2" ry="2.0" transform="rotate(128 24.4 62.9)" fill="#4a1e58" fill-opacity="0.42"/>
<ellipse cx="92.5" cy="80.4" rx="2.3" ry="2.2" transform="rotate(139 92.5 80.4)" fill="#4a1e58" fill-opacity="0.62"/>
<ellipse cx="70.2" cy="84.4" rx="1.9" ry="1.9" transform="rotate(94 70.2 84.4)" fill="#4a1e58" fill-opacity="0.61"/>
<ellipse cx="73.1" cy="65.2" rx="1.5" ry="1.4" transform="rotate(86 73.1 65.2)" fill="#4a1e58" fill-opacity="0.50"/>
<ellipse cx="60.6" cy="49.6" rx="2.3" ry="1.6" transform="rotate(178 60.6 49.6)" fill="#4a1e58" fill-opacity="0.64"/>
<ellipse cx="88.7" cy="104.7" rx="2.2" ry="1.6" transform="rotate(5 88.7 104.7)" fill="#4a1e58" fill-opacity="0.54"/>
<ellipse cx="73.8" cy="71.1" rx="1.5" ry="1.0" transform="rotate(100 73.8 71.1)" fill="#4a1e58" fill-opacity="0.70"/>
<ellipse cx="28.7" cy="41.6" rx="2.4" ry="1.7" transform="rotate(27 28.7 41.6)" fill="#4a1e58" fill-opacity="0.65"/>
<ellipse cx="10.6" cy="4.7" rx="2.2" ry="1.5" transform="rotate(29 10.6 4.7)" fill="#4a1e58" fill-opacity="0.87"/>
<ellipse cx="46.5" cy="60.1" rx="2.3" ry="1.9" transform="rotate(177 46.5 60.1)" fill="#4a1e58" fill-opacity="0.60"/>
<ellipse cx="93.4" cy="90.6" rx="2.1" ry="1.7" transform="rotate(144 93.4 90.6)" fill="#4a1e58" fill-opacity="0.64"/>
<ellipse cx="42.9" cy="38.5" rx="1.8" ry="1.6" transform="rotate(19 42.9 38.5)" fill="#4a1e58" fill-opacity="0.86"/>
<ellipse cx="93.5" cy="106.2" rx="1.5" ry="1.4" transform="rotate(72 93.5 106.2)" fill="#4a1e58" fill-opacity="0.76"/>
<ellipse cx="14.3" cy="17.9" rx="1.5" ry="1.4" transform="rotate(74 14.3 17.9)" fill="#4a1e58" fill-opacity="0.73"/>
<ellipse cx="23.1" cy="24.4" rx="2.4" ry="1.8" transform="rotate(40 23.1 24.4)" fill="#4a1e58" fill-opacity="0.75"/>
<ellipse cx="37.9" cy="62.0" rx="1.7" ry="1.2" transform="rotate(42 37.9 62.0)" fill="#4a1e58" fill-opacity="0.47"/>
<ellipse cx="72.6" cy="56.3" rx="2.2" ry="2.2" transform="rotate(54 72.6 56.3)" fill="#4a1e58" fill-opacity="0.76"/>
<ellipse cx="64.7" cy="74.4" rx="1.6" ry="1.6" transform="rotate(28 64.7 74.4)" fill="#4a1e58" fill-opacity="0.73"/>
<ellipse cx="3.8" cy="99.6" rx="2.4" ry="2.2" transform="rotate(135 3.8 99.6)" fill="#4a1e58" fill-opacity="0.42"/>
<ellipse cx="40.4" cy="43.1" rx="1.7" ry="1.6" transform="rotate(87 40.4 43.1)" fill="#4a1e58" fill-opacity="0.63"/>
<ellipse cx="15.5" cy="36.4" rx="1.6" ry="1.3" transform="rotate(108 15.5 36.4)" fill="#4a1e58" fill-opacity="0.77"/>
<ellipse cx="92.4" cy="67.4" rx="2.0" ry="2.0" transform="rotate(38 92.4 67.4)" fill="#4a1e58" fill-opacity="0.85"/>
<ellipse cx="14.0" cy="26.5" rx="1.8" ry="1.3" transform="rotate(155 14.0 26.5)" fill="#4a1e58" fill-opacity="0.81"/>
<ellipse cx="35.5" cy="39.2" rx="2.4" ry="1.5" transform="rotate(54 35.5 39.2)" fill="#4a1e58" fill-opacity="0.90"/>
<ellipse cx="11.3" cy="93.9" rx="1.5" ry="1.5" transform="rotate(2 11.3 93.9)" fill="#4a1e58" fill-opacity="0.62"/>
<ellipse cx="48.3" cy="52.7" rx="1.6" ry="1.1" transform="rotate(18 48.3 52.7)" fill="#4a1e58" fill-opacity="0.79"/>
<ellipse cx="35.0" cy="27.9" rx="2.2" ry="2.1" transform="rotate(61 35.0 27.9)" fill="#4a1e58" fill-opacity="0.54"/>
<ellipse cx="0.5" cy="105.5" rx="2.2" ry="1.4" transform="rotate(176 0.5 105.5)" fill="#4a1e58" fill-opacity="0.85"/>
<ellipse cx="55.0" cy="108.6" rx="1.7" ry="1.1" transform="rotate(124 55.0 108.6)" fill="#4a1e58" fill-opacity="0.82"/>
<ellipse cx="16.0" cy="85.2" rx="2.0" ry="1.3" transform="rotate(77 16.0 85.2)" fill="#4a1e58" fill-opacity="0.41"/>
<ellipse cx="82.1" cy="35.3" rx="1.4" ry="1.4" transform="rotate(57 82.1 35.3)" fill="#4a1e58" fill-opacity="0.90"/>
<ellipse cx="22.1" cy="89.7" rx="1.5" ry="1.2" transform="rotate(24 22.1 89.7)" fill="#4a1e58" fill-opacity="0.49"/>
<ellipse cx="86.4" cy="81.6" rx="1.6" ry="1.5" transform="rotate(27 86.4 81.6)" fill="#4a1e58" fill-opacity="0.77"/>
<ellipse cx="22.5" cy="56.5" rx="2.0" ry="1.6" transform="rotate(64 22.5 56.5)" fill="#4a1e58" fill-opacity="0.54"/>
<ellipse cx="1.0" cy="29.6" rx="2.4" ry="2.4" transform="rotate(39 1.0 29.6)" fill="#4a1e58" fill-opacity="0.64"/>
<ellipse cx="26.0" cy="76.3" rx="2.4" ry="1.7" transform="rotate(49 26.0 76.3)" fill="#4a1e58" fill-opacity="0.55"/>
<ellipse cx="46.3" cy="103.9" rx="1.7" ry="1.4" transform="rotate(8 46.3 103.9)" fill="#4a1e58" fill-opacity="0.37"/>
<ellipse cx="19.2" cy="21.1" rx="1.8" ry="1.2" transform="rotate(65 19.2 21.1)" fill="#4a1e58" fill-opacity="0.72"/>
<ellipse cx="65.4" cy="99.7" rx="2.2" ry="1.8" transform="rotate(98 65.4 99.7)" fill="#4a1e58" fill-opacity="0.76"/>
<ellipse cx="88.8" cy="52.2" rx="2.2" ry="1.9" transform="rotate(157 88.8 52.2)" fill="#4a1e58" fill-opacity="0.89"/>
<ellipse cx="68.5" cy="88.4" rx="1.8" ry="1.8" transform="rotate(75 68.5 88.4)" fill="#4a1e58" fill-opacity="0.63"/>
<ellipse cx="7.2" cy="72.6" rx="1.8" ry="1.3" transform="rotate(74 7.2 72.6)" fill="#4a1e58" fill-opacity="0.46"/>
<ellipse cx="84.5" cy="107.8" rx="2.5" ry="2.4" transform="rotate(109 84.5 107.8)" fill="#4a1e58" fill-opacity="0.50"/>
<ellipse cx="100.3" cy="79.9" rx="1.7" ry="1.2" transform="rotate(68 100.3 79.9)" fill="#4a1e58" fill-opacity="0.74"/>
<ellipse cx="14.3" cy="100.2" rx="1.6" ry="1.5" transform="rotate(152 14.3 100.2)" fill="#4a1e58" fill-opacity="0.38"/>
<ellipse cx="69.0" cy="37.6" rx="2.4" ry="1.8" transform="rotate(125 69.0 37.6)" fill="#4a1e58" fill-opacity="0.52"/>
<ellipse cx="68.2" cy="57.5" rx="2.1" ry="2.1" transform="rotate(57 68.2 57.5)" fill="#4a1e58" fill-opacity="0.72"/>
<ellipse cx="29.6" cy="25.2" rx="1.4" ry="1.2" transform="rotate(154 29.6 25.2)" fill="#4a1e58" fill-opacity="0.80"/>
<ellipse cx="55.4" cy="57.2" rx="2.1" ry="1.8" transform="rotate(42 55.4 57.2)" fill="#4a1e58" fill-opacity="0.90"/>
<ellipse cx="49.1" cy="79.9" rx="2.2" ry="1.7" transform="rotate(128 49.1 79.9)" fill="#4a1e58" fill-opacity="0.46"/>
<ellipse cx="33.2" cy="56.6" rx="2.0" ry="1.5" transform="rotate(122 33.2 56.6)" fill="#4a1e58" fill-opacity="0.75"/>
<ellipse cx="58.7" cy="83.9" rx="2.1" ry="1.8" transform="rotate(40 58.7 83.9)" fill="#4a1e58" fill-opacity="0.50"/>
<ellipse cx="45.9" cy="67.2" rx="1.7" ry="1.5" transform="rotate(85 45.9 67.2)" fill="#4a1e58" fill-opacity="0.60"/>
<ellipse cx="53.3" cy="76.3" rx="2.0" ry="1.4" transform="rotate(40 53.3 76.3)" fill="#4a1e58" fill-opacity="0.48"/>
<ellipse cx="55.6" cy="52.0" rx="2.4" ry="2.0" transform="rotate(94 55.6 52.0)" fill="#4a1e58" fill-opacity="0.71"/>
<ellipse cx="11.1" cy="48.0" rx="2.3" ry="2.2" transform="rotate(31 11.1 48.0)" fill="#4a1e58" fill-opacity="0.60"/>
<ellipse cx="21.7" cy="105.6" rx="1.9" ry="1.8" transform="rotate(149 21.7 105.6)" fill="#4a1e58" fill-opacity="0.53"/>
<ellipse cx="44.6" cy="56.3" rx="2.4" ry="2.2" transform="rotate(69 44.6 56.3)" fill="#4a1e58" fill-opacity="0.52"/>
<ellipse cx="34.6" cy="20.1" rx="2.3" ry="1.7" transform="rotate(28 34.6 20.1)" fill="#4a1e58" fill-opacity="0.55"/>
<ellipse cx="-0.0" cy="35.5" rx="1.5" ry="1.3" transform="rotate(145 -0.0 35.5)" fill="#4a1e58" fill-opacity="0.64"/>
<ellipse cx="4.9" cy="109.3" rx="1.9" ry="1.9" transform="rotate(71 4.9 109.3)" fill="#4a1e58" fill-opacity="0.54"/>
<ellipse cx="9.3" cy="28.0" rx="2.2" ry="2.0" transform="rotate(86 9.3 28.0)" fill="#4a1e58" fill-opacity="0.68"/>
<ellipse cx="25.9" cy="14.9" rx="2.2" ry="1.7" transform="rotate(122 25.9 14.9)" fill="#4a1e58" fill-opacity="0.56"/>
<ellipse cx="97.3" cy="62.5" rx="2.0" ry="1.5" transform="rotate(67 97.3 62.5)" fill="#4a1e58" fill-opacity="0.60"/>
<ellipse cx="4.2" cy="75.8" rx="1.8" ry="1.5" transform="rotate(36 4.2 75.8)" fill="#4a1e58" fill-opacity="0.35"/>
<ellipse cx="5.8" cy="104.0" rx="1.5" ry="1.1" transform="rotate(129 5.8 104.0)" fill="#4a1e58" fill-opacity="0.57"/>
<ellipse cx="9.8" cy="16.2" rx="1.8" ry="1.2" transform="rotate(150 9.8 16.2)" fill="#4a1e58" fill-opacity="0.60"/>
<ellipse cx="31.7" cy="32.5" rx="2.1" ry="1.7" transform="rotate(36 31.7 32.5)" fill="#4a1e58" fill-opacity="0.84"/>
<ellipse cx="80.0" cy="30.8" rx="2.3" ry="1.5" transform="rotate(67 80.0 30.8)" fill="#4a1e58" fill-opacity="0.75"/>
<ellipse cx="25.0" cy="-0.3" rx="1.9" ry="1.4" transform="rotate(128 25.0 -0.3)" fill="#4a1e58" fill-opacity="0.65"/>
<ellipse cx="77.2" cy="60.3" rx="1.8" ry="1.4" transform="rotate(146 77.2 60.3)" fill="#4a1e58" fill-opacity="0.76"/>
<ellipse cx="18.5" cy="51.6" rx="1.8" ry="1.3" transform="rotate(166 18.5 51.6)" fill="#4a1e58" fill-opacity="0.73"/>
<ellipse cx="86.4" cy="46.8" rx="2.5" ry="2.2" transform="rotate(67 86.4 46.8)" fill="#4a1e58" fill-opacity="0.78"/>
<ellipse cx="51.5" cy="92.3" rx="1.8" ry="1.4" transform="rotate(136 51.5 92.3)" fill="#4a1e58" fill-opacity="0.37"/>
<ellipse cx="35.0" cy="92.0" rx="2.0" ry="1.8" transform="rotate(162 35.0 92.0)" fill="#4a1e58" fill-opacity="0.49"/>
<ellipse cx="66.7" cy="43.7" rx="1.4" ry="1.2" transform="rotate(83 66.7 43.7)" fill="#4a1e58" fill-opacity="0.74"/>
<ellipse cx="78.0" cy="26.9" rx="2.3" ry="2.2" transform="rotate(85 78.0 26.9)" fill="#4a1e58" fill-opacity="0.67"/>
<ellipse cx="15.6" cy="7.5" rx="1.9" ry="1.8" transform="rotate(92 15.6 7.5)" fill="#4a1e58" fill-opacity="0.70"/>
<ellipse cx="88.9" cy="96.4" rx="2.1" ry="1.4" transform="rotate(72 88.9 96.4)" fill="#4a1e58" fill-opacity="0.80"/>
<ellipse cx="24.2" cy="31.1" rx="2.1" ry="2.0" transform="rotate(138 24.2 31.1)" fill="#4a1e58" fill-opacity="0.72"/>
<ellipse cx="46.1" cy="27.7" rx="1.5" ry="1.4" transform="rotate(14 46.1 27.7)" fill="#4a1e58" fill-opacity="0.59"/>
<ellipse cx="39.2" cy="51.6" rx="1.5" ry="1.3" transform="rotate(136 39.2 51.6)" fill="#4a1e58" fill-opacity="0.54"/>
<ellipse cx="26.5" cy="8.1" rx="1.5" ry="1.2" transform="rotate(128 26.5 8.1)" fill="#4a1e58" fill-opacity="0.77"/>
<ellipse cx="79.1" cy="72.3" rx="1.5" ry="1.2" transform="rotate(75 79.1 72.3)" fill="#4a1e58" fill-opacity="0.78"/>
<ellipse cx="75.3" cy="97.3" rx="2.5" ry="1.8" transform="rotate(157 75.3 97.3)" fill="#4a1e58" fill-opacity="0.83"/>
<ellipse cx="40.1" cy="34.9" rx="1.8" ry="1.8" transform="rotate(1 40.1 34.9)" fill="#4a1e58" fill-opacity="0.71"/>
<ellipse cx="2.7" cy="92.4" rx="1.7" ry="1.3" transform="rotate(56 2.7 92.4)" fill="#4a1e58" fill-opacity="0.42"/>
<ellipse cx="65.8" cy="80.9" rx="2.3" ry="1.9" transform="rotate(92 65.8 80.9)" fill="#4a1e58" fill-opacity="0.72"/>
<ellipse cx="88.2" cy="88.9" rx="1.5" ry="1.4" transform="rotate(156 88.2 88.9)" fill="#4a1e58" fill-opacity="0.62"/>
<ellipse cx="87.3" cy="64.0" rx="2.3" ry="1.6" transform="rotate(36 87.3 64.0)" fill="#4a1e58" fill-opacity="0.60"/>
<ellipse cx="94.4" cy="75.2" rx="2.0" ry="1.6" transform="rotate(84 94.4 75.2)" fill="#4a1e58" fill-opacity="0.65"/>
<ellipse cx="1.4" cy="13.0" rx="2.0" ry="1.5" transform="rotate(144 1.4 13.0)" fill="#4a1e58" fill-opacity="0.65"/>
<ellipse cx="65.8" cy="68.8" rx="2.4" ry="1.8" transform="rotate(9 65.8 68.8)" fill="#4a1e58" fill-opacity="0.72"/>
<ellipse cx="78.8" cy="54.8" rx="2.0" ry="1.5" transform="rotate(102 78.8 54.8)" fill="#4a1e58" fill-opacity="0.66"/>
<ellipse cx="77.9" cy="108.3" rx="1.7" ry="1.5" transform="rotate(52 77.9 108.3)" fill="#4a1e58" fill-opacity="0.82"/>
<ellipse cx="51.3" cy="41.2" rx="2.3" ry="2.2" transform="rotate(82 51.3 41.2)" fill="#4a1e58" fill-opacity="0.74"/>
<ellipse cx="70.6" cy="76.2" rx="1.9" ry="1.5" transform="rotate(10 70.6 76.2)" fill="#4a1e58" fill-opacity="0.85"/>
<ellipse cx="71.0" cy="30.9" rx="2.1" ry="1.4" transform="rotate(155 71.0 30.9)" fill="#4a1e58" fill-opacity="0.52"/>
<ellipse cx="23.0" cy="99.4" rx="2.1" ry="1.7" transform="rotate(166 23.0 99.4)" fill="#4a1e58" fill-opacity="0.40"/>
<ellipse cx="51.1" cy="48.9" rx="2.3" ry="2.0" transform="rotate(121 51.1 48.9)" fill="#4a1e58" fill-opacity="0.70"/>
<ellipse cx="79.1" cy="92.8" rx="1.7" ry="1.2" transform="rotate(151 79.1 92.8)" fill="#4a1e58" fill-opacity="0.58"/>
<ellipse cx="37.0" cy="46.4" rx="2.4" ry="1.6" transform="rotate(18 37.0 46.4)" fill="#4a1e58" fill-opacity="0.58"/>
<ellipse cx="27.7" cy="3.5" rx="2.3" ry="2.0" transform="rotate(75 27.7 3.5)" fill="#4a1e58" fill-opacity="0.88"/>
<ellipse cx="26.7" cy="55.7" rx="1.7" ry="1.2" transform="rotate(123 26.7 55.7)" fill="#4a1e58" fill-opacity="0.86"/>
<ellipse cx="18.5" cy="40.2" rx="1.5" ry="1.4" transform="rotate(8 18.5 40.2)" fill="#4a1e58" fill-opacity="0.78"/>
<ellipse cx="85.7" cy="69.3" rx="1.7" ry="1.3" transform="rotate(105 85.7 69.3)" fill="#4a1e58" fill-opacity="0.59"/>
<ellipse cx="77.1" cy="48.9" rx="2.0" ry="1.5" transform="rotate(164 77.1 48.9)" fill="#4a1e58" fill-opacity="0.56"/>
<ellipse cx="49.0" cy="36.8" rx="2.3" ry="2.3" transform="rotate(144 49.0 36.8)" fill="#4a1e58" fill-opacity="0.56"/>
<ellipse cx="30.2" cy="81.5" rx="1.8" ry="1.6" transform="rotate(68 30.2 81.5)" fill="#4a1e58" fill-opacity="0.36"/>
<ellipse cx="59.5" cy="98.3" rx="1.6" ry="1.3" transform="rotate(17 59.5 98.3)" fill="#4a1e58" fill-opacity="0.50"/>
<ellipse cx="52.4" cy="69.1" rx="2.2" ry="1.5" transform="rotate(122 52.4 69.1)" fill="#4a1e58" fill-opacity="0.47"/>
<ellipse cx="40.3" cy="102.7" rx="2.3" ry="2.3" transform="rotate(166 40.3 102.7)" fill="#4a1e58" fill-opacity="0.38"/>
<ellipse cx="14.7" cy="57.0" rx="2.4" ry="1.9" transform="rotate(52 14.7 57.0)" fill="#4a1e58" fill-opacity="0.71"/>
<ellipse cx="71.7" cy="104.4" rx="2.2" ry="1.5" transform="rotate(167 71.7 104.4)" fill="#4a1e58" fill-opacity="0.70"/>
<ellipse cx="97.4" cy="70.9" rx="1.9" ry="1.6" transform="rotate(108 97.4 70.9)" fill="#4a1e58" fill-opacity="0.85"/>
<ellipse cx="54.6" cy="63.9" rx="1.5" ry="1.4" transform="rotate(49 54.6 63.9)" fill="#4a1e58" fill-opacity="0.56"/>
<ellipse cx="39.9" cy="23.3" rx="2.3" ry="1.5" transform="rotate(166 39.9 23.3)" fill="#4a1e58" fill-opacity="0.59"/>
<ellipse cx="30.6" cy="50.1" rx="2.1" ry="2.0" transform="rotate(62 30.6 50.1)" fill="#4a1e58" fill-opacity="0.89"/>
<ellipse cx="93.4" cy="51.7" rx="2.1" ry="1.7" transform="rotate(60 93.4 51.7)" fill="#4a1e58" fill-opacity="0.52"/>
<ellipse cx="100.8" cy="54.0" rx="1.7" ry="1.5" transform="rotate(32 100.8 54.0)" fill="#4a1e58" fill-opacity="0.80"/>
<ellipse cx="43.0" cy="73.2" rx="1.7" ry="1.2" transform="rotate(101 43.0 73.2)" fill="#4a1e58" fill-opacity="0.37"/>
<ellipse cx="13.8" cy="42.5" rx="2.0" ry="1.6" transform="rotate(107 13.8 42.5)" fill="#4a1e58" fill-opacity="0.82"/>
<ellipse cx="42.4" cy="89.7" rx="1.4" ry="1.3" transform="rotate(18 42.4 89.7)" fill="#4a1e58" fill-opacity="0.49"/>
<ellipse cx="2.4" cy="1.9" rx="1.5" ry="1.2" transform="rotate(64 2.4 1.9)" fill="#4a1e58" fill-opacity="0.73"/>
<ellipse cx="101.4" cy="67.7" rx="2.1" ry="2.1" transform="rotate(31 101.4 67.7)" fill="#4a1e58" fill-opacity="0.57"/>
<ellipse cx="79.6" cy="101.6" rx="1.8" ry="1.4" transform="rotate(157 79.6 101.6)" fill="#4a1e58" fill-opacity="0.84"/>
<ellipse cx="66.5" cy="104.6" rx="1.6" ry="1.1" transform="rotate(158 66.5 104.6)" fill="#4a1e58" fill-opacity="0.54"/>
<ellipse cx="0.6" cy="24.4" rx="1.9" ry="1.6" transform="rotate(21 0.6 24.4)" fill="#4a1e58" fill-opacity="0.71"/>
<ellipse cx="25.1" cy="46.6" rx="1.6" ry="1.2" transform="rotate(91 25.1 46.6)" fill="#4a1e58" fill-opacity="0.71"/>
<ellipse cx="63.6" cy="35.0" rx="1.6" ry="1.1" transform="rotate(37 63.6 35.0)" fill="#4a1e58" fill-opacity="0.66"/>
<ellipse cx="57.7" cy="34.8" rx="1.7" ry="1.6" transform="rotate(90 57.7 34.8)" fill="#4a1e58" fill-opacity="0.85"/>
<ellipse cx="88.8" cy="31.2" rx="1.4" ry="1.3" transform="rotate(88 88.8 31.2)" fill="#4a1e58" fill-opacity="0.88"/>
<ellipse cx="33.2" cy="42.8" rx="2.0" ry="1.9" transform="rotate(41 33.2 42.8)" fill="#4a1e58" fill-opacity="0.78"/>
<ellipse cx="29.7" cy="11.5" rx="1.6" ry="1.2" transform="rotate(6 29.7 11.5)" fill="#4a1e58" fill-opacity="0.61"/>
<ellipse cx="26.1" cy="85.9" rx="2.0" ry="1.3" transform="rotate(160 26.1 85.9)" fill="#4a1e58" fill-opacity="0.43"/>
<ellipse cx="9.4" cy="65.4" rx="2.0" ry="1.9" transform="rotate(107 9.4 65.4)" fill="#4a1e58" fill-opacity="0.42"/>
<ellipse cx="20.0" cy="-0.7" rx="2.2" ry="1.9" transform="rotate(44 20.0 -0.7)" fill="#4a1e58" fill-opacity="0.52"/>
<ellipse cx="83.9" cy="59.9" rx="2.5" ry="2.2" transform="rotate(111 83.9 59.9)" fill="#4a1e58" fill-opacity="0.52"/>
<ellipse cx="43.0" cy="95.7" rx="2.3" ry="1.9" transform="rotate(146 43.0 95.7)" fill="#4a1e58" fill-opacity="0.45"/>
<ellipse cx="15.6" cy="-0.3" rx="2.4" ry="1.9" transform="rotate(169 15.6 -0.3)" fill="#4a1e58" fill-opacity="0.50"/>
<ellipse cx="19.3" cy="12.3" rx="1.8" ry="1.7" transform="rotate(44 19.3 12.3)" fill="#4a1e58" fill-opacity="0.54"/>
<ellipse cx="2.4" cy="61.5" rx="2.1" ry="1.5" transform="rotate(62 2.4 61.5)" fill="#4a1e58" fill-opacity="0.56"/>
<ellipse cx="62.7" cy="60.2" rx="1.6" ry="1.6" transform="rotate(60 62.7 60.2)" fill="#4a1e58" fill-opacity="0.59"/>
<ellipse cx="64.8" cy="53.3" rx="2.5" ry="2.1" transform="rotate(86 64.8 53.3)" fill="#4a1e58" fill-opacity="0.82"/>
<ellipse cx="77.2" cy="85.9" rx="2.3" ry="2.0" transform="rotate(135 77.2 85.9)" fill="#4a1e58" fill-opacity="0.86"/>
<ellipse cx="18.9" cy="108.9" rx="1.6" ry="1.5" transform="rotate(152 18.9 108.9)" fill="#4a1e58" fill-opacity="0.75"/>
<ellipse cx="51.1" cy="106.1" rx="1.5" ry="1.1" transform="rotate(63 51.1 106.1)" fill="#4a1e58" fill-opacity="0.79"/>
<ellipse cx="5.1" cy="37.7" rx="2.5" ry="1.7" transform="rotate(134 5.1 37.7)" fill="#4a1e58" fill-opacity="0.77"/>
<ellipse cx="99.1" cy="74.8" rx="2.3" ry="2.1" transform="rotate(163 99.1 74.8)" fill="#4a1e58" fill-opacity="0.87"/>
<ellipse cx="92.3" cy="60.7" rx="2.3" ry="1.9" transform="rotate(106 92.3 60.7)" fill="#4a1e58" fill-opacity="0.82"/>
<ellipse cx="84.1" cy="27.9" rx="2.3" ry="1.7" transform="rotate(157 84.1 27.9)" fill="#4a1e58" fill-opacity="0.81"/>
<ellipse cx="36.9" cy="84.4" rx="2.5" ry="1.7" transform="rotate(170 36.9 84.4)" fill="#4a1e58" fill-opacity="0.50"/>
<ellipse cx="67.0" cy="109.2" rx="2.5" ry="2.3" transform="rotate(45 67.0 109.2)" fill="#4a1e58" fill-opacity="0.81"/>
<ellipse cx="14.1" cy="67.6" rx="1.7" ry="1.2" transform="rotate(82 14.1 67.6)" fill="#4a1e58" fill-opacity="0.41"/>
<ellipse cx="9.5" cy="38.4" rx="1.9" ry="1.7" transform="rotate(123 9.5 38.4)" fill="#4a1e58" fill-opacity="0.86"/>
<ellipse cx="82.5" cy="43.4" rx="1.8" ry="1.6" transform="rotate(143 82.5 43.4)" fill="#4a1e58" fill-opacity="0.81"/>
<ellipse cx="35.8" cy="71.0" rx="2.4" ry="1.7" transform="rotate(73 35.8 71.0)" fill="#4a1e58" fill-opacity="0.58"/>
<ellipse cx="55.4" cy="43.9" rx="2.1" ry="1.8" transform="rotate(61 55.4 43.9)" fill="#4a1e58" fill-opacity="0.83"/>
<ellipse cx="57.5" cy="104.3" rx="2.3" ry="1.9" transform="rotate(1 57.5 104.3)" fill="#4a1e58" fill-opacity="0.82"/>
<ellipse cx="26.7" cy="70.5" rx="1.4" ry="1.1" transform="rotate(146 26.7 70.5)" fill="#4a1e58" fill-opacity="0.38"/>
<ellipse cx="88.7" cy="76.8" rx="2.1" ry="1.5" transform="rotate(60 88.7 76.8)" fill="#4a1e58" fill-opacity="0.68"/>
<ellipse cx="73.3" cy="81.3" rx="1.8" ry="1.3" transform="rotate(111 73.3 81.3)" fill="#4a1e58" fill-opacity="0.84"/>
<ellipse cx="91.7" cy="101.3" rx="1.5" ry="1.2" transform="rotate(126 91.7 101.3)" fill="#4a1e58" fill-opacity="0.61"/>
<ellipse cx="32.6" cy="106.9" rx="2.1" ry="1.9" transform="rotate(22 32.6 106.9)" fill="#4a1e58" fill-opacity="0.58"/>
<ellipse cx="21.2" cy="77.0" rx="1.4" ry="1.1" transform="rotate(33 21.2 77.0)" fill="#4a1e58" fill-opacity="0.58"/>
<ellipse cx="83.1" cy="76.8" rx="2.5" ry="2.4" transform="rotate(40 83.1 76.8)" fill="#4a1e58" fill-opacity="0.64"/>
<ellipse cx="20.3" cy="27.7" rx="2.1" ry="1.7" transform="rotate(71 20.3 27.7)" fill="#4a1e58" fill-opacity="0.86"/>
<ellipse cx="45.4" cy="85.4" rx="2.5" ry="1.8" transform="rotate(178 45.4 85.4)" fill="#4a1e58" fill-opacity="0.49"/>
<ellipse cx="18.7" cy="32.1" rx="2.3" ry="1.5" transform="rotate(95 18.7 32.1)" fill="#4a1e58" fill-opacity="0.56"/>
<ellipse cx="67.3" cy="49.3" rx="1.6" ry="1.5" transform="rotate(82 67.3 49.3)" fill="#4a1e58" fill-opacity="0.88"/>
<ellipse cx="43.7" cy="49.4" rx="1.7" ry="1.4" transform="rotate(18 43.7 49.4)" fill="#4a1e58" fill-opacity="0.64"/>
<ellipse cx="17.8" cy="72.0" rx="2.3" ry="2.3" transform="rotate(68 17.8 72.0)" fill="#4a1e58" fill-opacity="0.49"/>
<ellipse cx="73.4" cy="37.8" rx="2.4" ry="2.1" transform="rotate(14 73.4 37.8)" fill="#4a1e58" fill-opacity="0.77"/>
<ellipse cx="81.9" cy="89.5" rx="1.9" ry="1.7" transform="rotate(65 81.9 89.5)" fill="#4a1e58" fill-opacity="0.88"/>
<ellipse cx="88.0" cy="38.1" rx="2.1" ry="1.9" transform="rotate(94 88.0 38.1)" fill="#4a1e58" fill-opacity="0.65"/>
<ellipse cx="4.3" cy="50.8" rx="2.4" ry="2.4" transform="rotate(65 4.3 50.8)" fill="#4a1e58" fill-opacity="0.70"/>
<ellipse cx="1.1" cy="66.9" rx="1.5" ry="1.2" transform="rotate(123 1.1 66.9)" fill="#4a1e58" fill-opacity="0.83"/>
<ellipse cx="52.4" cy="28.7" rx="1.9" ry="1.7" transform="rotate(160 52.4 28.7)" fill="#4a1e58" fill-opacity="0.80"/>
<ellipse cx="18.5" cy="102.1" rx="2.2" ry="1.6" transform="rotate(59 18.5 102.1)" fill="#4a1e58" fill-opacity="0.36"/>
<ellipse cx="97.2" cy="48.5" rx="2.4" ry="2.1" transform="rotate(26 97.2 48.5)" fill="#4a1e58" fill-opacity="0.86"/>
<ellipse cx="-0.5" cy="41.7" rx="2.0" ry="1.9" transform="rotate(71 -0.5 41.7)" fill="#4a1e58" fill-opacity="0.52"/>
<ellipse cx="61.9" cy="104.0" rx="2.1" ry="1.6" transform="rotate(137 61.9 104.0)" fill="#4a1e58" fill-opacity="0.61"/>
<ellipse cx="11.1" cy="107.2" rx="2.0" ry="1.8" transform="rotate(176 11.1 107.2)" fill="#4a1e58" fill-opacity="0.67"/>
<ellipse cx="3.4" cy="85.5" rx="2.3" ry="2.3" transform="rotate(68 3.4 85.5)" fill="#4a1e58" fill-opacity="0.54"/>
<ellipse cx="6.6" cy="33.2" rx="2.2" ry="1.5" transform="rotate(50 6.6 33.2)" fill="#4a1e58" fill-opacity="0.78"/>
<ellipse cx="93.9" cy="40.6" rx="2.0" ry="1.6" transform="rotate(143 93.9 40.6)" fill="#4a1e58" fill-opacity="0.83"/>
<ellipse cx="61.4" cy="90.2" rx="1.6" ry="1.1" transform="rotate(158 61.4 90.2)" fill="#4a1e58" fill-opacity="0.49"/>
<ellipse cx="27.6" cy="94.2" rx="2.2" ry="1.5" transform="rotate(56 27.6 94.2)" fill="#4a1e58" fill-opacity="0.40"/>
<ellipse cx="100.2" cy="84.7" rx="1.7" ry="1.7" transform="rotate(174 100.2 84.7)" fill="#4a1e58" fill-opacity="0.65"/>
<ellipse cx="25.6" cy="37.8" rx="1.6" ry="1.2" transform="rotate(170 25.6 37.8)" fill="#4a1e58" fill-opacity="0.62"/>
<ellipse cx="11.4" cy="52.4" rx="1.8" ry="1.3" transform="rotate(20 11.4 52.4)" fill="#4a1e58" fill-opacity="0.68"/>
<ellipse cx="98.3" cy="93.2" rx="1.8" ry="1.4" transform="rotate(173 98.3 93.2)" fill="#4a1e58" fill-opacity="0.65"/>
<ellipse cx="21.9" cy="4.4" rx="1.6" ry="1.5" transform="rotate(81 21.9 4.4)" fill="#4a1e58" fill-opacity="0.86"/>
<ellipse cx="87.9" cy="57.5" rx="2.1" ry="1.5" transform="rotate(57 87.9 57.5)" fill="#4a1e58" fill-opacity="0.81"/>
<ellipse cx="18.1" cy="47.2" rx="2.2" ry="2.0" transform="rotate(101 18.1 47.2)" fill="#4a1e58" fill-opacity="0.69"/>
<ellipse cx="27.6" cy="21.3" rx="2.2" ry="2.2" transform="rotate(65 27.6 21.3)" fill="#4a1e58" fill-opacity="0.61"/>
<ellipse cx="5.1" cy="80.8" rx="2.0" ry="1.5" transform="rotate(113 5.1 80.8)" fill="#4a1e58" fill-opacity="0.43"/>
<ellipse cx="18.1" cy="92.0" rx="2.2" ry="1.9" transform="rotate(149 18.1 92.0)" fill="#4a1e58" fill-opacity="0.36"/>
<ellipse cx="75.2" cy="90.3" rx="1.8" ry="1.3" transform="rotate(48 75.2 90.3)" fill="#4a1e58" fill-opacity="0.88"/>
<ellipse cx="12.2" cy="31.2" rx="1.5" ry="1.3" transform="rotate(136 12.2 31.2)" fill="#4a1e58" fill-opacity="0.72"/>
<ellipse cx="41.9" cy="30.6" rx="1.9" ry="1.4" transform="rotate(20 41.9 30.6)" fill="#4a1e58" fill-opacity="0.82"/>
<ellipse cx="57.0" cy="92.9" rx="2.1" ry="1.9" transform="rotate(114 57.0 92.9)" fill="#4a1e58" fill-opacity="0.62"/>
<ellipse cx="53.9" cy="81.5" rx="2.3" ry="2.0" transform="rotate(169 53.9 81.5)" fill="#4a1e58" fill-opacity="0.46"/>
<ellipse cx="80.7" cy="64.2" rx="1.8" ry="1.4" transform="rotate(145 80.7 64.2)" fill="#4a1e58" fill-opacity="0.66"/>
<ellipse cx="82.6" cy="96.6" rx="1.6" ry="1.3" transform="rotate(96 82.6 96.6)" fill="#4a1e58" fill-opacity="0.85"/>
<ellipse cx="13.7" cy="63.0" rx="2.1" ry="1.6" transform="rotate(24 13.7 63.0)" fill="#4a1e58" fill-opacity="0.60"/>
<ellipse cx="72.0" cy="42.0" rx="1.5" ry="1.4" transform="rotate(90 72.0 42.0)" fill="#4a1e58" fill-opacity="0.67"/>
<ellipse cx="93.9" cy="45.6" rx="2.1" ry="1.8" transform="rotate(73 93.9 45.6)" fill="#4a1e58" fill-opacity="0.73"/>
<ellipse cx="51.8" cy="60.5" rx="1.7" ry="1.6" transform="rotate(142 51.8 60.5)" fill="#4a1e58" fill-opacity="0.84"/>
<ellipse cx="8.7" cy="100.1" rx="1.6" ry="1.3" transform="rotate(136 8.7 100.1)" fill="#4a1e58" fill-opacity="0.54"/>
<ellipse cx="24.2" cy="42.0" rx="2.4" ry="2.2" transform="rotate(134 24.2 42.0)" fill="#4a1e58" fill-opacity="0.86"/>
<ellipse cx="31.4" cy="96.9" rx="2.1" ry="1.9" transform="rotate(24 31.4 96.9)" fill="#4a1e58" fill-opacity="0.60"/>
<ellipse cx="45.9" cy="92.5" rx="2.2" ry="1.5" transform="rotate(50 45.9 92.5)" fill="#4a1e58" fill-opacity="0.52"/>
<ellipse cx="69.0" cy="62.1" rx="2.1" ry="1.5" transform="rotate(49 69.0 62.1)" fill="#4a1e58" fill-opacity="0.83"/>
<ellipse cx="93.3" cy="95.3" rx="1.6" ry="1.6" transform="rotate(122 93.3 95.3)" fill="#4a1e58" fill-opacity="0.54"/>
<ellipse cx="12.7" cy="77.9" rx="2.3" ry="1.5" transform="rotate(126 12.7 77.9)" fill="#4a1e58" fill-opacity="0.45"/>
<ellipse cx="66.9" cy="93.6" rx="2.3" ry="2.0" transform="rotate(1 66.9 93.6)" fill="#4a1e58" fill-opacity="0.63"/>
<ellipse cx="8.3" cy="58.0" rx="1.6" ry="1.3" transform="rotate(11 8.3 58.0)" fill="#4a1e58" fill-opacity="0.61"/>
<ellipse cx="10.3" cy="0.4" rx="2.0" ry="1.9" transform="rotate(7 10.3 0.4)" fill="#4a1e58" fill-opacity="0.82"/>
<ellipse cx="52.2" cy="96.7" rx="1.5" ry="1.2" transform="rotate(113 52.2 96.7)" fill="#4a1e58" fill-opacity="0.41"/>
<ellipse cx="2.7" cy="17.2" rx="1.8" ry="1.6" transform="rotate(39 2.7 17.2)" fill="#4a1e58" fill-opacity="0.73"/>
<ellipse cx="63.1" cy="95.6" rx="1.6" ry="1.4" transform="rotate(146 63.1 95.6)" fill="#4a1e58" fill-opacity="0.84"/>
</g>
</g>
<g fill="#d44462" filter="url(#b03)">
<circle cx="79.2" cy="3.3" r="2.0"/>
<circle cx="66.2" cy="27.6" r="1.0"/>
<circle cx="67.6" cy="26.5" r="0.8"/>
<circle cx="93.6" cy="33" r="1.0"/>
<circle cx="94.5" cy="34.6" r="0.8"/>
<circle cx="99.3" cy="87.8" r="0.8"/>
<circle cx="99.6" cy="105.1" r="1.0"/>
<circle cx="4" cy="0.3" r="0.9"/>
<circle cx="8" cy="0.8" r="0.8"/>
<circle cx="12" cy="0.5" r="0.8"/>
<circle cx="17" cy="1.2" r="0.8"/>
<circle cx="21" cy="0.6" r="0.7"/>
<circle cx="24" cy="2" r="0.7"/>
<circle cx="27.5" cy="1.8" r="0.9"/>
<circle cx="30" cy="3.8" r="0.8"/>
<circle cx="29.2" cy="7.2" r="0.9"/>
<circle cx="31.8" cy="8.2" r="0.8"/>
<circle cx="33.6" cy="11" r="0.9"/>
<circle cx="36.4" cy="12.6" r="0.8"/>
<circle cx="39.4" cy="14" r="0.9"/>
<circle cx="30.8" cy="11.8" r="0.7"/>
<circle cx="27.8" cy="9.6" r="0.7"/>
<circle cx="42" cy="17" r="0.6"/>
<circle cx="46" cy="19" r="0.6"/>
<circle cx="57" cy="26.5" r="0.6"/>
<circle cx="61.5" cy="29.5" r="0.6"/>
</g>
</g>
<g id="i20e" clip-path="url(#ci20)">
<rect x="0" y="0" width="37.8" height="37" fill="#eeeaef"/>
<radialGradient id="g_i20e" gradientUnits="userSpaceOnUse" cx="24" cy="17" r="15"><stop offset="0" stop-color="#e03a2e"/><stop offset="0.45" stop-color="#b82a30"/><stop offset="1" stop-color="#7a1e38"/></radialGradient>
<g filter="url(#b06)"><g transform="">
<path d="M19,10 C21,6.5 26,5.5 29.5,7.5 C32.5,9.5 33,14 32.5,18 C32,23 29,26.5 25,29 C21,31.5 17,33.5 12.5,32.5 C9,31.5 8,28 9.5,24.5 C11,21 14,18.5 15.5,15.5 C16.5,13 17.5,11.5 19,10 Z" fill="url(#g_i20e)" stroke="#4a2c70" stroke-width="1.6" stroke-opacity="0.85"/>
<path d="M12,24 C14,22 17,22 19,25" fill="none" stroke="#6a2040" stroke-width="1.2" opacity="0.5"/>
</g></g>
</g>
<g id="i20v" clip-path="url(#ci20)">
<rect x="0" y="0" width="37.8" height="37" fill="#eeeaef"/>
<radialGradient id="g_i20v" gradientUnits="userSpaceOnUse" cx="24" cy="17" r="15"><stop offset="0" stop-color="#d04444"/><stop offset="0.45" stop-color="#c03a3a"/><stop offset="1" stop-color="#982838"/></radialGradient>
<g filter="url(#b15)"><g transform="translate(-1.5,-0.5) scale(1.08)">
<path d="M19,10 C21,6.5 26,5.5 29.5,7.5 C32.5,9.5 33,14 32.5,18 C32,23 29,26.5 25,29 C21,31.5 17,33.5 12.5,32.5 C9,31.5 8,28 9.5,24.5 C11,21 14,18.5 15.5,15.5 C16.5,13 17.5,11.5 19,10 Z" fill="url(#g_i20v)" stroke="#6a2850" stroke-width="1.4" stroke-opacity="0.6"/>
<path d="M12,24 C14,22 17,22 19,25" fill="none" stroke="#6a2040" stroke-width="1.2" opacity="0.5"/>
</g></g>
</g>
<g id="i20s" clip-path="url(#ci20)">
<rect x="0" y="0" width="37.8" height="37" fill="#eeeaef"/>
<radialGradient id="g_i20s" gradientUnits="userSpaceOnUse" cx="24" cy="17" r="15"><stop offset="0" stop-color="#e24038"/><stop offset="0.45" stop-color="#c03232"/><stop offset="1" stop-color="#882838"/></radialGradient>
<g filter="url(#b15)"><g transform="translate(-1.5,-0.5) scale(1.06)">
<path d="M19,10 C21,6.5 26,5.5 29.5,7.5 C32.5,9.5 33,14 32.5,18 C32,23 29,26.5 25,29 C21,31.5 17,33.5 12.5,32.5 C9,31.5 8,28 9.5,24.5 C11,21 14,18.5 15.5,15.5 C16.5,13 17.5,11.5 19,10 Z" fill="url(#g_i20s)" stroke="#4a2c70" stroke-width="2.0" stroke-opacity="0.75"/>
<path d="M12,24 C14,22 17,22 19,25" fill="none" stroke="#6a2040" stroke-width="1.2" opacity="0.5"/>
</g></g>
</g>
<g id="i20l" clip-path="url(#ci20)">
<rect x="0" y="0" width="37.8" height="37" fill="#eeeaef"/>
<radialGradient id="g_i20l" gradientUnits="userSpaceOnUse" cx="24" cy="17" r="15"><stop offset="0" stop-color="#f04a34"/><stop offset="0.45" stop-color="#c82838"/><stop offset="1" stop-color="#a02040"/></radialGradient>
<g filter="url(#b10)"><g transform="translate(-1,0) scale(1.04)">
<path d="M19,10 C21,6.5 26,5.5 29.5,7.5 C32.5,9.5 33,14 32.5,18 C32,23 29,26.5 25,29 C21,31.5 17,33.5 12.5,32.5 C9,31.5 8,28 9.5,24.5 C11,21 14,18.5 15.5,15.5 C16.5,13 17.5,11.5 19,10 Z" fill="url(#g_i20l)" stroke="#6a2048" stroke-width="1.4" stroke-opacity="0.6"/>
<path d="M12,24 C14,22 17,22 19,25" fill="none" stroke="#6a2040" stroke-width="1.2" opacity="0.5"/>
</g></g>
</g>
<g id="i20h" clip-path="url(#ci20)">
<rect x="0" y="0" width="37.8" height="37" fill="#eeeaef"/>
<radialGradient id="rg2" gradientUnits="userSpaceOnUse" cx="23" cy="15" r="10"><stop offset="0" stop-color="#f4402c"/><stop offset="0.7" stop-color="#dc3428"/><stop offset="1" stop-color="#a02838"/></radialGradient>
<g filter="url(#b10)">
<ellipse cx="22.6" cy="14.8" rx="10.2" ry="10.6" transform="rotate(20 22.6 14.8)" fill="#42286a" fill-opacity="0.9"/>
<ellipse cx="13.6" cy="22" rx="7.8" ry="7.2" transform="rotate(-40 13.6 22)" fill="#3a2a70" fill-opacity="0.9"/>
<ellipse cx="22.6" cy="14.8" rx="8.6" ry="9.0" transform="rotate(20 22.6 14.8)" fill="url(#rg2)"/>
<ellipse cx="14.4" cy="21.4" rx="6.2" ry="5.4" transform="rotate(-40 14.4 21.4)" fill="#d83a2c"/>
<path d="M14.5,15 C16.5,18 18,21.5 18.5,25.5" fill="none" stroke="#6a1830" stroke-width="2.2" opacity="0.75"/>
<ellipse cx="12.5" cy="22.5" rx="2.6" ry="2.2" fill="#e87830" opacity="0.55"/>
</g>
</g>
</defs>
<g transform="translate(24.3,308.1)"><use href="#t40"/></g>
<g transform="translate(23.8,355.90000000000003) scale(1.006,1.008)"><g><use href="#i40"/></g></g>
<rect x="23.8" y="355.90000000000003" width="62.8" height="62.2" fill="none" stroke="#3b6c87" stroke-width="1.5"/>
<g transform="translate(134.8,308.1)"><g clip-path="url(#c40)">
<rect x="0" y="0" width="109.4" height="108.7" fill="#a45a8b"/>
<g filter="url(#b40)">
<ellipse cx="32" cy="15" rx="12" ry="8" fill="#7e3d72" fill-opacity="0.7"/>
<ellipse cx="98" cy="44" rx="8" ry="8" fill="#7e3d72" fill-opacity="0.6"/>
<ellipse cx="60" cy="10" rx="6" ry="10" fill="#c880b0" fill-opacity="0.5"/>
<ellipse cx="75" cy="83" rx="10" ry="4" fill="#d090c0" fill-opacity="0.6"/>
<ellipse cx="20" cy="40" rx="15" ry="10" fill="#a05a8c" fill-opacity="0.5"/>
<ellipse cx="70" cy="55" rx="10" ry="8" fill="#8a4478" fill-opacity="0.4"/>
<ellipse cx="100" cy="100" rx="10" ry="10" fill="#8e4a80" fill-opacity="0.5"/>
<ellipse cx="45" cy="70" rx="12" ry="12" fill="#b066a0" fill-opacity="0.4"/>
</g></g></g>
<rect x="134.5" y="356.1" width="62" height="62.1" fill="#8e4f87" stroke="#3b6c87" stroke-width="1.5"/>
<g transform="translate(244.3,308.1)"><use href="#t40"/></g>
<g transform="translate(243.8,355.90000000000003) scale(1.006,1.008)"><g><use href="#i40"/></g></g>
<rect x="243.8" y="355.90000000000003" width="62.8" height="62.2" fill="none" stroke="#3b6c87" stroke-width="1.5"/>
<g transform="translate(354.3,308.1)"><use href="#t40"/></g>
<g transform="translate(353.8,355.90000000000003) scale(1.006,1.008)"><g filter="url(#b06)"><use href="#i40"/></g></g>
<rect x="353.8" y="355.90000000000003" width="62.8" height="62.2" fill="none" stroke="#3b6c87" stroke-width="1.5"/>
<g transform="translate(464.3,308.1)"><use href="#t40"/></g>
<g transform="translate(463.8,355.90000000000003) scale(1.006,1.008)"><g filter="url(#b06)"><use href="#i40"/></g></g>
<rect x="463.8" y="355.90000000000003" width="62.8" height="62.2" fill="none" stroke="#3b6c87" stroke-width="1.5"/>
<g transform="translate(574.3,308.1)"><use href="#t40"/></g>
<g transform="translate(573.8,355.90000000000003) scale(1.006,1.008)"><g filter="url(#b03)"><use href="#i40"/></g></g>
<rect x="573.8" y="355.90000000000003" width="62.8" height="62.2" fill="none" stroke="#3b6c87" stroke-width="1.5"/>
<g transform="translate(24.3,429.0)"><use href="#t20"/></g>
<g transform="translate(23.5,501.3) scale(1.013,1.01)"><use href="#i20h"/></g>
<rect x="23.5" y="501.3" width="38.3" height="37.4" fill="none" stroke="#3b6c87" stroke-width="1.5"/>
<g transform="translate(134.8,429.0)"><g clip-path="url(#c20)">
<rect x="0" y="0" width="109.4" height="108.8" fill="#b6afa3"/>
<polygon points="25.7,-1.0 25.7,0.0 29.9,5.3 37.1,13.6 44.4,19.9 51.7,24.0 56.9,30.2 67.3,34.4 75.6,31.3 80.8,27.1 88.1,28.2 90.1,33.4 94.3,42.7 98.4,51.0 100.5,63.5 99.5,80.1 98.4,96.7 98.0,109.5 -1.0,109.5 -1.0,-1.0" fill="#b0679a" filter="url(#b10)"/>
<clipPath id="cpv"><polygon points="25.7,-1.0 25.7,0.0 29.9,5.3 37.1,13.6 44.4,19.9 51.7,24.0 56.9,30.2 67.3,34.4 75.6,31.3 80.8,27.1 88.1,28.2 90.1,33.4 94.3,42.7 98.4,51.0 100.5,63.5 99.5,80.1 98.4,96.7 98.0,109.5 -1.0,109.5 -1.0,-1.0"/></clipPath>
<g clip-path="url(#cpv)"><g filter="url(#b40)">
<ellipse cx="30" cy="22" rx="38" ry="11" transform="rotate(20 30 22)" fill="#9c4c84" fill-opacity="0.6"/>
<ellipse cx="20" cy="62" rx="32" ry="12" transform="rotate(25 20 62)" fill="#d6b6c8" fill-opacity="0.65"/>
<ellipse cx="62" cy="76" rx="7" ry="6" transform="rotate(0 62 76)" fill="#e0cad4" fill-opacity="0.7"/>
<ellipse cx="55" cy="100" rx="32" ry="10" transform="rotate(0 55 100)" fill="#c896b8" fill-opacity="0.6"/>
<ellipse cx="98" cy="55" rx="4" ry="12" transform="rotate(0 98 55)" fill="#763668" fill-opacity="0.75"/>
<ellipse cx="64" cy="50" rx="18" ry="11" transform="rotate(20 64 50)" fill="#a4508a" fill-opacity="0.5"/>
<ellipse cx="15" cy="78" rx="10" ry="6" transform="rotate(0 15 78)" fill="#dcd4cc" fill-opacity="0.5"/>
<ellipse cx="85" cy="80" rx="10" ry="14" transform="rotate(0 85 80)" fill="#a6588e" fill-opacity="0.4"/>
<ellipse cx="8" cy="5" rx="10" ry="8" transform="rotate(0 8 5)" fill="#ae6496" fill-opacity="0.4"/>
</g></g>
</g></g>
<rect x="133.3" y="501.2" width="37.1" height="37.5" fill="#b6afa3" stroke="#3b6c87" stroke-width="1.5"/>
<g transform="translate(244.3,429.0)"><use href="#t20"/></g>
<g transform="translate(243.5,501.3) scale(1.013,1.01)"><use href="#i20e"/></g>
<rect x="243.5" y="501.3" width="38.3" height="37.4" fill="none" stroke="#3b6c87" stroke-width="1.5"/>
<g transform="translate(354.3,429.0)"><use href="#t20"/></g>
<g transform="translate(353.5,501.3) scale(1.013,1.01)"><use href="#i20v"/></g>
<rect x="353.5" y="501.3" width="38.3" height="37.4" fill="none" stroke="#3b6c87" stroke-width="1.5"/>
<g transform="translate(464.3,429.0)"><use href="#t20"/></g>
<g transform="translate(463.5,501.3) scale(1.013,1.01)"><use href="#i20s"/></g>
<rect x="463.5" y="501.3" width="38.3" height="37.4" fill="none" stroke="#3b6c87" stroke-width="1.5"/>
<g transform="translate(574.3,429.0)"><use href="#t20"/></g>
<g transform="translate(573.5,501.3) scale(1.013,1.01)"><use href="#i20l"/></g>
<rect x="573.5" y="501.3" width="38.3" height="37.4" fill="none" stroke="#3b6c87" stroke-width="1.5"/>
<text transform="translate(15.5,356.6) rotate(-90)" font-size="10" text-anchor="middle" fill="#111">40x</text>
<text transform="translate(18.9,483.6) rotate(-90)" font-size="10" text-anchor="middle" fill="#111">20x</text>
<text x="76.0" y="550.8" font-size="10" text-anchor="middle" fill="#111" stroke="#111" stroke-width="0.2">HR</text>
<text x="189.0" y="550.8" font-size="10" text-anchor="middle" fill="#111" stroke="#111" stroke-width="0.2">VAE</text>
<text x="294.8" y="550.8" font-size="10" text-anchor="middle" fill="#111" stroke="#111" stroke-width="0.2">ESRGAN</text>
<text x="408.9" y="550.8" font-size="10" text-anchor="middle" fill="#111" stroke="#111" stroke-width="0.2">VQVAE</text>
<text x="517.0" y="550.8" font-size="10" text-anchor="middle" fill="#111" stroke="#111" stroke-width="0.2">SwinIR</text>
<text x="628.0" y="550.8" font-size="10" text-anchor="middle" fill="#111" stroke="#111" stroke-width="0.2">LDM</text>
</svg></body></html>
